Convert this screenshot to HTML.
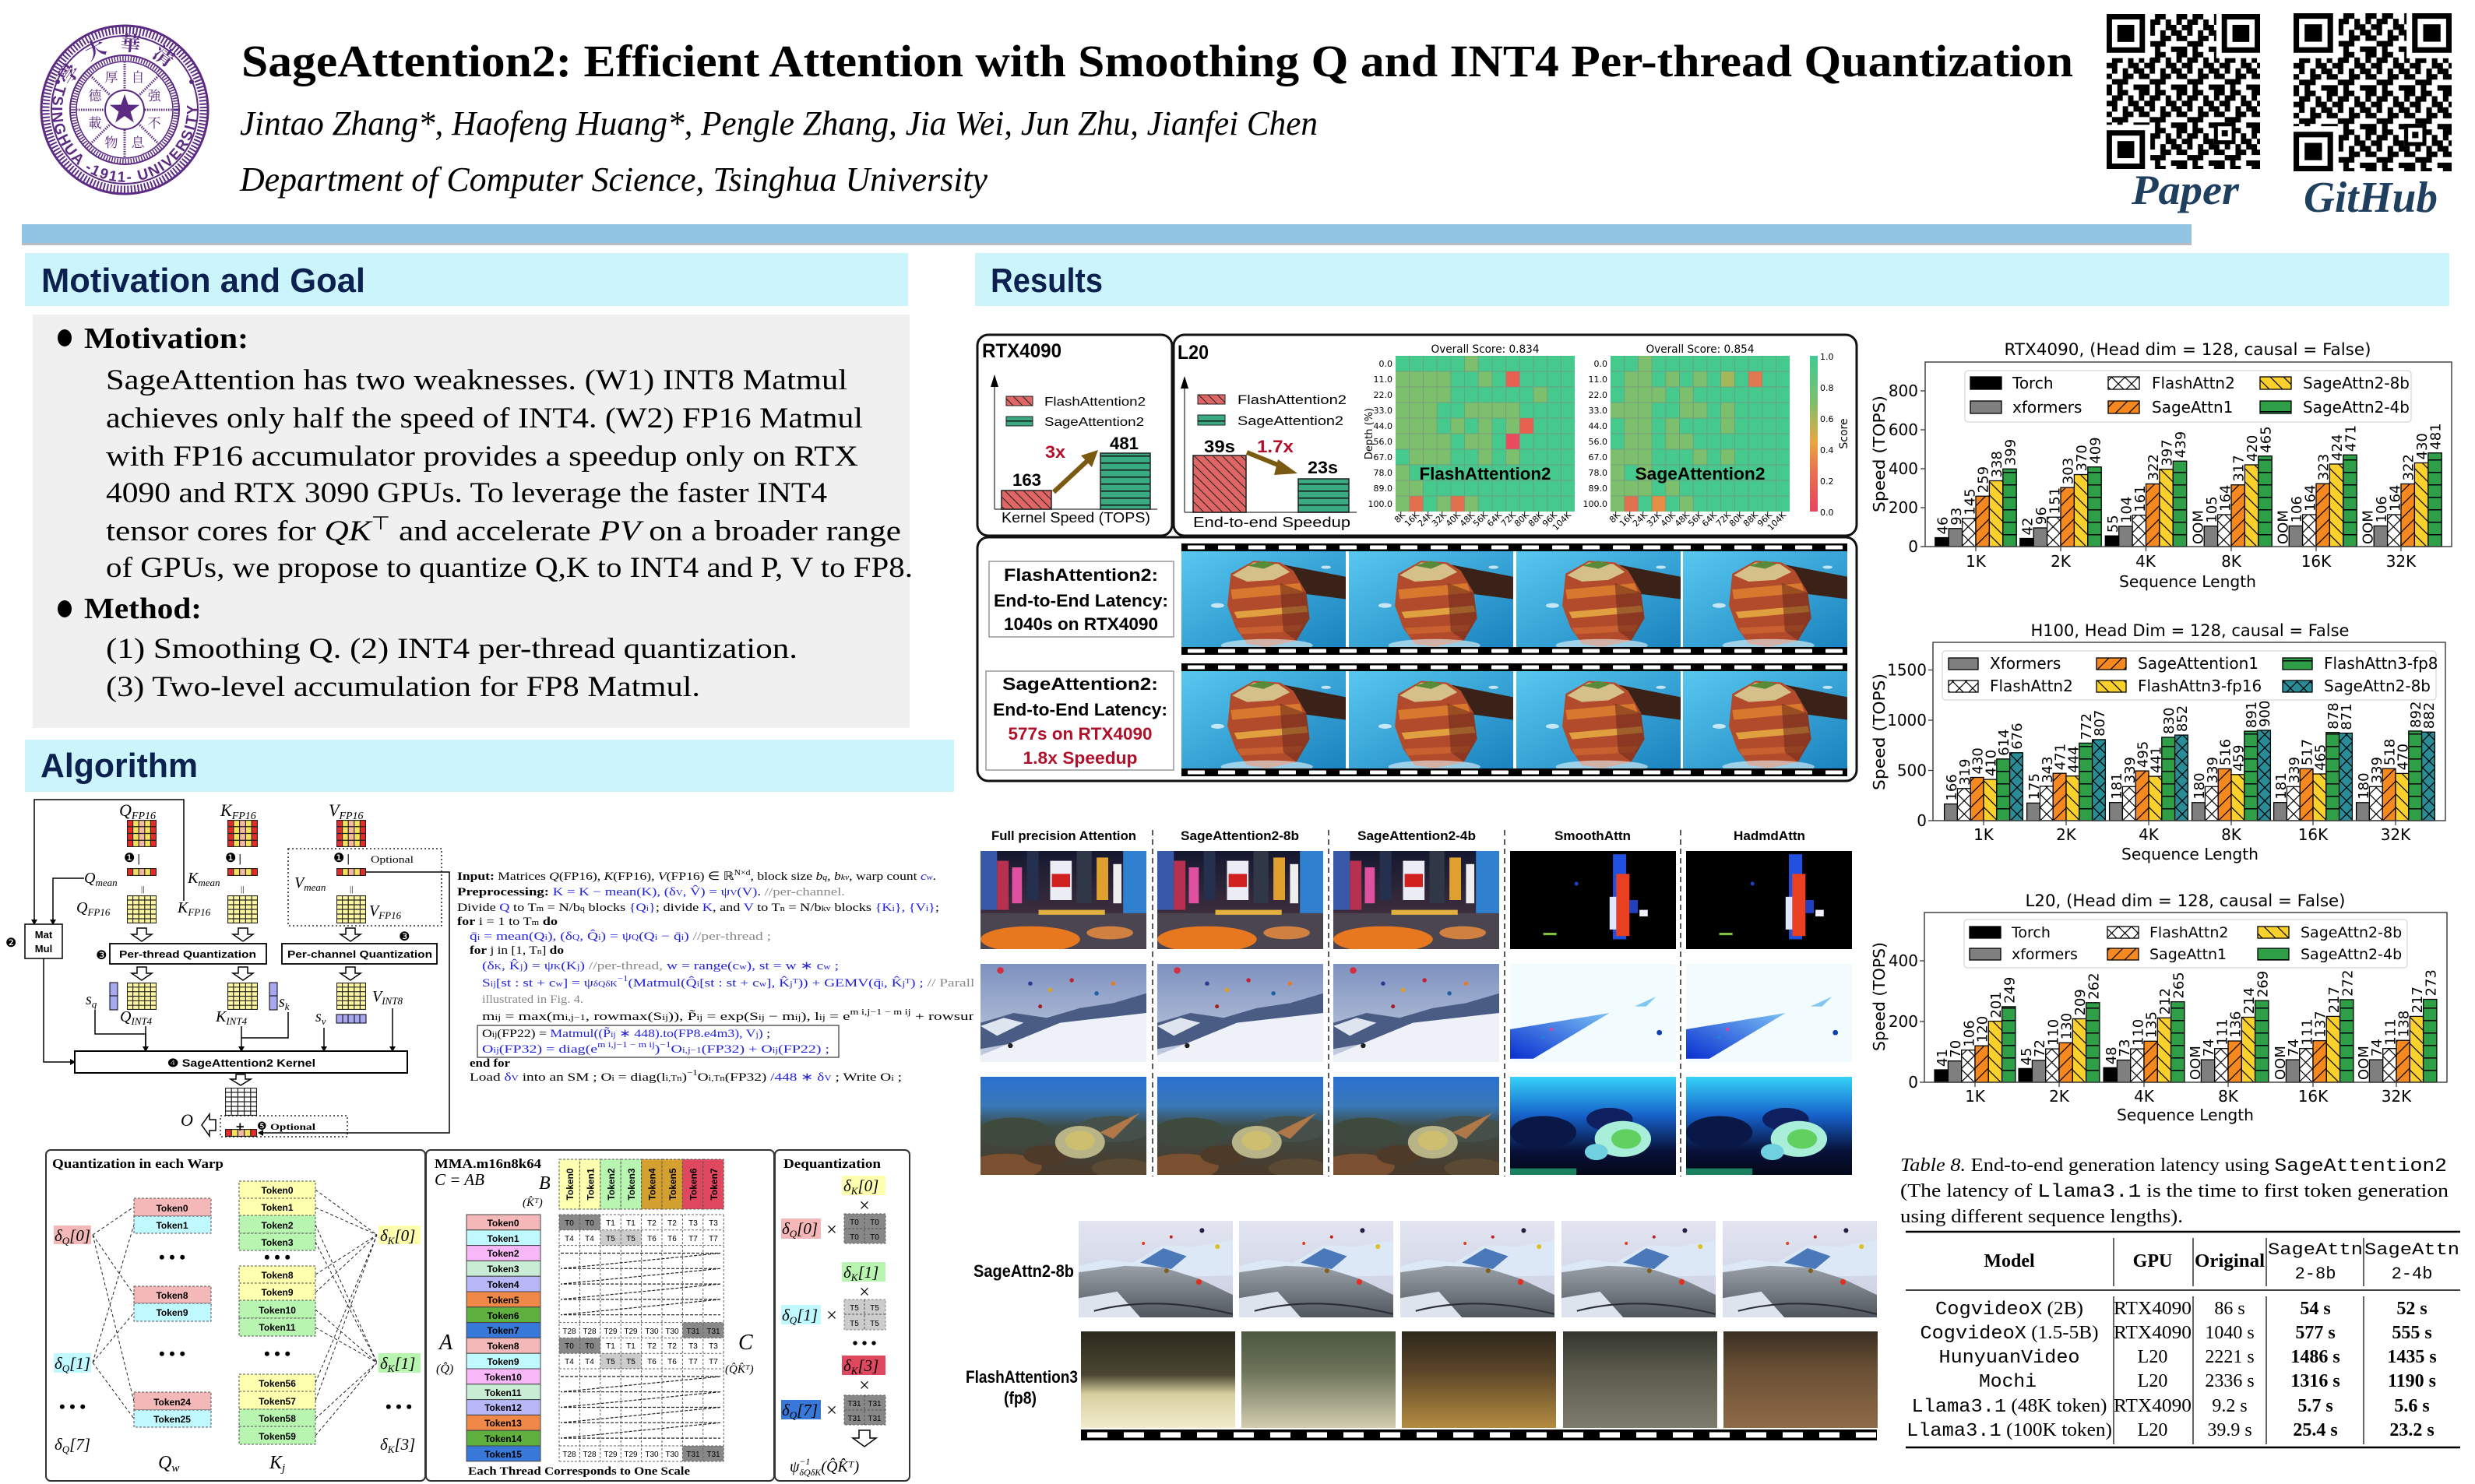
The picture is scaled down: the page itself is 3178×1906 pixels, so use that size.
<!DOCTYPE html>
<html><head><meta charset="utf-8"><title>SageAttention2 Poster</title>
<style>
html,body{margin:0;padding:0;background:#fff;}
svg{display:block;}
.s{font-family:"Liberation Serif",serif;}
.a{font-family:"Liberation Sans",sans-serif;}
.d{font-family:"DejaVu Sans",sans-serif;}
.m{font-family:"Liberation Mono",monospace;}
.bl{font-family:"DejaVu Sans",sans-serif;font-size:18px;}
.tk{font-family:"Liberation Sans",sans-serif;font-size:12px;font-weight:bold;}
.tc{font-family:"Liberation Sans",sans-serif;font-size:10px;}
</style></head><body>
<svg xmlns="http://www.w3.org/2000/svg" xmlns:xlink="http://www.w3.org/1999/xlink" width="3178" height="1906" viewBox="0 0 3178 1906">
<defs>
<pattern id="hX" patternUnits="userSpaceOnUse" width="17" height="17"><rect width="17" height="17" fill="#fff"/><path d="M0 0L17 17M17 0L0 17" stroke="#000" stroke-width="1.2"/></pattern>
<pattern id="hT" patternUnits="userSpaceOnUse" width="17" height="17"><rect width="17" height="17" fill="#2A8C96"/><path d="M0 0L17 17M17 0L0 17" stroke="#000" stroke-width="1.2"/></pattern>
<pattern id="hO" patternUnits="userSpaceOnUse" width="17" height="17"><rect width="17" height="17" fill="#F5881F"/><path d="M0 17L17 0M-3 3L3 -3M14 20L20 14" stroke="#000" stroke-width="1.2"/></pattern>
<pattern id="hY" patternUnits="userSpaceOnUse" width="17" height="17"><rect width="17" height="17" fill="#FAD02C"/><path d="M0 0L17 17M14 -3L20 3M-3 14L3 20" stroke="#000" stroke-width="1.2"/></pattern>
<pattern id="hG" patternUnits="userSpaceOnUse" width="17" height="16"><rect width="17" height="16" fill="#2E9E47"/><path d="M0 0.75H17" stroke="#000" stroke-width="1.5"/></pattern>
<pattern id="mR" patternUnits="userSpaceOnUse" width="12" height="12"><rect width="12" height="12" fill="#E06666"/><path d="M0 0L12 12M9 -3L15 3M-3 9L3 15" stroke="#222" stroke-width="1"/></pattern>
<pattern id="mG" patternUnits="userSpaceOnUse" width="12" height="9"><rect width="12" height="9" fill="#3AAA80"/><path d="M0 0.75H12" stroke="#111" stroke-width="1.5"/></pattern>
<pattern id="film" patternUnits="userSpaceOnUse" width="39" height="10"><rect width="39" height="10" fill="#000"/><rect x="8" y="2.5" width="22" height="5" rx="1" fill="#fff"/></pattern>
<pattern id="film2" patternUnits="userSpaceOnUse" width="47" height="14"><rect width="47" height="14" fill="#000"/><rect x="8" y="3.5" width="26" height="7" fill="#fff"/></pattern>
<pattern id="qr" patternUnits="userSpaceOnUse" width="49" height="49"><path d="M0 0h7v7h-7zM14 0h14v7h-14zM42 0h7v7h-7zM7 7h14v7h-14zM28 7h7v7h-7zM42 7h7v7h-7zM0 14h14v7h-14zM28 14h14v7h-14zM7 21h7v7h-7zM21 21h7v7h-7zM35 21h14v7h-14zM0 28h7v7h-7zM21 28h14v7h-14zM42 28h7v7h-7zM7 35h21v7h-21zM0 42h7v7h-7zM14 42h7v7h-7zM35 42h14v7h-14z" fill="#000"/></pattern>
<symbol id="qrs" viewBox="0 0 200 200" preserveAspectRatio="none">
<rect width="200" height="200" fill="#fff"/><rect width="200" height="200" fill="url(#qr)"/>
<rect width="57" height="57" fill="#fff"/><rect x="143" width="57" height="57" fill="#fff"/><rect y="143" width="57" height="57" fill="#fff"/>
<rect width="50" height="50" fill="#000"/><rect x="7" y="7" width="36" height="36" fill="#fff"/><rect x="14" y="14" width="22" height="22" fill="#000"/>
<rect x="150" width="50" height="50" fill="#000"/><rect x="157" y="7" width="36" height="36" fill="#fff"/><rect x="164" y="14" width="22" height="22" fill="#000"/>
<rect y="150" width="50" height="50" fill="#000"/><rect x="7" y="157" width="36" height="36" fill="#fff"/><rect x="14" y="164" width="22" height="22" fill="#000"/>
<rect x="140" y="140" width="28" height="28" fill="#000"/><rect x="145" y="145" width="18" height="18" fill="#fff"/><rect x="150" y="150" width="8" height="8" fill="#000"/>
</symbol>
<linearGradient id="gSea" x1="0" y1="0" x2="1" y2="1"><stop offset="0" stop-color="#58C8F0"/><stop offset="1" stop-color="#1A82BE"/></linearGradient>
<linearGradient id="gCity" x1="0" y1="0" x2="0" y2="1"><stop offset="0" stop-color="#151830"/><stop offset="0.6" stop-color="#3A2C3C"/><stop offset="1" stop-color="#6A4A3A"/></linearGradient>
<linearGradient id="gSky" x1="0" y1="0" x2="0" y2="1"><stop offset="0" stop-color="#7E92C0"/><stop offset="1" stop-color="#C6CEE0"/></linearGradient>
<linearGradient id="gBlue" x1="0" y1="1" x2="1" y2="0"><stop offset="0" stop-color="#0A30D0"/><stop offset="1" stop-color="#7AC0F5"/></linearGradient>
<linearGradient id="gSeaT" x1="0" y1="0" x2="0" y2="1"><stop offset="0" stop-color="#2A70D0"/><stop offset="0.3" stop-color="#3A78B8"/><stop offset="0.5" stop-color="#3C4C48"/><stop offset="1" stop-color="#4A3A2A"/></linearGradient>
<linearGradient id="gSeaB" x1="0" y1="0" x2="0" y2="1"><stop offset="0" stop-color="#35D2F8"/><stop offset="0.4" stop-color="#1660C8"/><stop offset="0.75" stop-color="#08123A"/><stop offset="1" stop-color="#040818"/></linearGradient>
<linearGradient id="gMt" x1="0" y1="0" x2="0" y2="1"><stop offset="0" stop-color="#E2E4F0"/><stop offset="1" stop-color="#C9CEE2"/></linearGradient>
<linearGradient id="gGr" x1="0" y1="0" x2="0" y2="1"><stop offset="0" stop-color="#9AA0A8"/><stop offset="1" stop-color="#50565E"/></linearGradient>
<linearGradient id="n1" x1="0" y1="0" x2="0" y2="1"><stop offset="0" stop-color="#2C2A1C"/><stop offset="0.45" stop-color="#4A4632"/><stop offset="0.65" stop-color="#D8CFA0"/><stop offset="1" stop-color="#F2ECCC"/></linearGradient>
<linearGradient id="n2" x1="0" y1="0" x2="0" y2="1"><stop offset="0" stop-color="#4C5840"/><stop offset="0.4" stop-color="#6A7258"/><stop offset="1" stop-color="#D4CDB0"/></linearGradient>
<linearGradient id="n3" x1="0" y1="0" x2="0" y2="1"><stop offset="0" stop-color="#2E281C"/><stop offset="0.4" stop-color="#5A4428"/><stop offset="1" stop-color="#B48C40"/></linearGradient>
<linearGradient id="n4" x1="0" y1="0" x2="0" y2="1"><stop offset="0" stop-color="#34362E"/><stop offset="0.4" stop-color="#5A5A4C"/><stop offset="1" stop-color="#7E7C6C"/></linearGradient>
<linearGradient id="n5" x1="0" y1="0" x2="0" y2="1"><stop offset="0" stop-color="#3A3024"/><stop offset="0.4" stop-color="#6A5034"/><stop offset="1" stop-color="#8E6A48"/></linearGradient>
<linearGradient id="cbar" x1="0" y1="1" x2="0" y2="0"><stop offset="0" stop-color="#E8445F"/><stop offset="0.25" stop-color="#E87050"/><stop offset="0.45" stop-color="#E8A840"/><stop offset="0.7" stop-color="#7EBF6A"/><stop offset="1" stop-color="#3FCB95"/></linearGradient>

<symbol id="imCliff" viewBox="0 0 100 60" preserveAspectRatio="none">
<rect width="100" height="60" fill="url(#gSea)"/>
<polygon points="60,8 100,16 100,30 70,26" fill="#3A2218"/>
<polygon points="30,14 44,6 60,7 68,12 76,26 78,42 70,56 52,60 40,58 33,48 28,34" fill="#B24A2C"/>
<polygon points="30,24 72,20 74,26 31,30" fill="#D8782E"/>
<polygon points="32,38 76,34 77,38 34,42" fill="#E0A040"/>
<polygon points="34,48 74,46 72,50 36,52" fill="#C86030"/>
<polygon points="60,20 76,26 78,42 70,56 62,50" fill="#6A2A1A" opacity="0.55"/>
<polygon points="31,15 44,7 59,8 66,13 56,18 40,19" fill="#D6C08A"/>
<polygon points="40,9 50,6 57,8 50,11" fill="#5A8A38"/>
<ellipse cx="52" cy="59" rx="28" ry="4" fill="#E8F6FA" opacity="0.6"/>
<ellipse cx="22" cy="34" rx="4" ry="1.5" fill="#fff" opacity="0.7"/>
<ellipse cx="88" cy="10" rx="3" ry="1" fill="#fff" opacity="0.7"/>
</symbol>
<symbol id="imCity" viewBox="0 0 100 60" preserveAspectRatio="none">
<rect width="100" height="60" fill="url(#gCity)"/>
<rect x="0" y="0" width="10" height="36" fill="#3A58A8"/><rect x="10" y="6" width="7" height="30" fill="#B83050"/>
<rect x="19" y="10" width="6" height="22" fill="#E050A0"/><rect x="28" y="0" width="7" height="30" fill="#24304E"/>
<rect x="42" y="6" width="13" height="24" fill="#ECECF4"/><rect x="43" y="14" width="11" height="8" fill="#D02020"/>
<rect x="58" y="0" width="9" height="32" fill="#303848"/><rect x="70" y="4" width="7" height="26" fill="#E0A030"/>
<rect x="86" y="0" width="14" height="40" fill="#3080D0"/><rect x="80" y="8" width="5" height="24" fill="#EEE"/>
<rect x="0" y="38" width="100" height="22" fill="#4A4550"/>
<ellipse cx="30" cy="54" rx="30" ry="8" fill="#E87820"/><ellipse cx="78" cy="50" rx="14" ry="4" fill="#D08040"/>
<rect x="35" y="36" width="40" height="3" fill="#E0B040"/>
</symbol>
<symbol id="imCityB" viewBox="0 0 100 60" preserveAspectRatio="none">
<rect width="100" height="60" fill="#000"/>
<rect x="62" y="2" width="8" height="52" fill="#2050E0"/><rect x="64" y="14" width="8" height="38" fill="#E84020"/>
<rect x="60" y="28" width="4" height="20" fill="#E0E8FF"/><rect x="72" y="30" width="5" height="8" fill="#2040C0"/>
<rect x="78" y="36" width="5" height="4" fill="#F0F0FF"/><rect x="20" y="50" width="8" height="1.5" fill="#80C040"/>
<circle cx="40" cy="20" r="1.2" fill="#2040C0"/>
</symbol>
<symbol id="imSnow" viewBox="0 0 100 60" preserveAspectRatio="none">
<rect width="100" height="60" fill="url(#gSky)"/>
<polygon points="0,36 20,30 40,33 60,27 80,24 100,18 100,34 0,52" fill="#4A5C84"/>
<polygon points="0,38 14,33 26,36 10,44" fill="#E0E6F0"/>
<polygon points="0,60 0,56 48,36 100,30 100,60" fill="#EEF2F8"/>
<circle cx="12" cy="4" r="2" fill="#D03040"/><circle cx="30" cy="12" r="1.3" fill="#303890"/><circle cx="42" cy="16" r="1.3" fill="#E0A020"/>
<circle cx="55" cy="10" r="1.3" fill="#C02030"/><circle cx="70" cy="18" r="1.3" fill="#2060A0"/><circle cx="80" cy="12" r="1.3" fill="#E08020"/>
<circle cx="36" cy="26" r="1.2" fill="#A02020"/><circle cx="18" cy="50" r="1.5" fill="#202020"/>
</symbol>
<symbol id="imSnowB" viewBox="0 0 100 60" preserveAspectRatio="none">
<rect width="100" height="60" fill="#F2FBFE"/>
<polygon points="0,58 0,40 60,30 14,58" fill="url(#gBlue)"/>
<polygon points="75,26 88,20 82,26" fill="#80C8F0"/>
<circle cx="20" cy="45" r="1" fill="#2080E0"/><circle cx="90" cy="42" r="1.6" fill="#1040B0"/><circle cx="25" cy="40" r="1" fill="#E040A0"/>
</symbol>
<symbol id="imSea" viewBox="0 0 100 60" preserveAspectRatio="none">
<rect width="100" height="60" fill="url(#gSeaT)"/>
<ellipse cx="20" cy="34" rx="22" ry="9" fill="#3E4A3C"/><ellipse cx="80" cy="32" rx="22" ry="8" fill="#46504A"/>
<ellipse cx="15" cy="55" rx="22" ry="8" fill="#7A5030"/><ellipse cx="85" cy="56" rx="18" ry="6" fill="#5A4A34"/>
<ellipse cx="40" cy="48" rx="14" ry="6" fill="#4E3A28"/>
<ellipse cx="60" cy="40" rx="15" ry="10" fill="#B8B488"/><ellipse cx="60" cy="39" rx="9" ry="6" fill="#CDBE70"/>
<polygon points="72,34 96,22 80,38" fill="#B07848"/>
</symbol>
<symbol id="imSeaB" viewBox="0 0 100 60" preserveAspectRatio="none">
<rect width="100" height="60" fill="url(#gSeaB)"/>
<ellipse cx="20" cy="34" rx="20" ry="10" fill="#0A1848"/><ellipse cx="60" cy="26" rx="14" ry="7" fill="#0E2060"/>
<ellipse cx="68" cy="38" rx="17" ry="11" fill="#A8EED8"/><ellipse cx="70" cy="38" rx="9" ry="6" fill="#60D060"/>
<ellipse cx="52" cy="46" rx="7" ry="5" fill="#70D0E0"/>
<rect x="0" y="56" width="40" height="4" fill="#1A8060"/>
</symbol>
<symbol id="imMount" viewBox="0 0 100 60" preserveAspectRatio="none">
<rect width="100" height="60" fill="url(#gMt)"/>
<polygon points="0,28 18,24 35,26 55,15 75,16 100,12 100,34 0,36" fill="#DCE8F6"/>
<polygon points="40,26 55,17 70,22 60,30" fill="#4A78B8"/>
<polygon points="0,60 0,32 30,28 55,29 78,36 100,46 100,60" fill="url(#gGr)"/>
<polygon points="0,48 25,44 40,60 0,60" fill="#DDE4EE"/>
<path d="M10,56 Q50,46 100,58" stroke="#2A2E34" stroke-width="1" fill="none"/>
<circle cx="80" cy="6" r="1.5" fill="#202040"/><circle cx="60" cy="10" r="1" fill="#C02020"/><circle cx="42" cy="14" r="1" fill="#E04020"/>
<circle cx="90" cy="16" r="1.5" fill="#E0C020"/><circle cx="78" cy="38" r="1.8" fill="#E03020"/><circle cx="57" cy="31" r="1.5" fill="#806020"/>
</symbol>

<symbol id="gFP" viewBox="0 0 40 36" preserveAspectRatio="none">
<rect width="8" height="36" fill="#E52A2A"/><rect x="8" width="8" height="36" fill="#F5E25A"/><rect x="16" width="8" height="36" fill="#F6B7A5"/><rect x="24" width="8" height="36" fill="#F5E25A"/><rect x="32" width="8" height="36" fill="#E52A2A"/>
<path d="M0 0.5H40M0 9H40M0 18H40M0 27H40M0 35.5H40M0.5 0V36M8 0V36M16 0V36M24 0V36M32 0V36M39.5 0V36" stroke="#222" stroke-width="1.2" fill="none"/>
</symbol>
<symbol id="gM" viewBox="0 0 40 10" preserveAspectRatio="none">
<rect width="8" height="10" fill="#E52A2A"/><rect x="8" width="8" height="10" fill="#F5E25A"/><rect x="16" width="8" height="10" fill="#F6B7A5"/><rect x="24" width="8" height="10" fill="#F5E25A"/><rect x="32" width="8" height="10" fill="#E52A2A"/>
<path d="M0 0.5H40M0 9.5H40M0.5 0V10M8 0V10M16 0V10M24 0V10M32 0V10M39.5 0V10" stroke="#222" stroke-width="1.2" fill="none"/>
</symbol>
<symbol id="gYl" viewBox="0 0 40 36" preserveAspectRatio="none">
<rect width="40" height="36" fill="#FFF7A0"/>
<path d="M0 0.5H40M0 6H40M0 12H40M0 18H40M0 24H40M0 30H40M0 35.5H40M0.5 0V36M8 0V36M16 0V36M24 0V36M32 0V36M39.5 0V36" stroke="#222" stroke-width="1.2" fill="none"/>
</symbol>
<symbol id="gWh" viewBox="0 0 40 36" preserveAspectRatio="none">
<rect width="40" height="36" fill="#fff"/>
<path d="M0 0.5H40M0 6H40M0 12H40M0 18H40M0 24H40M0 30H40M0 35.5H40M0.5 0V36M8 0V36M16 0V36M24 0V36M32 0V36M39.5 0V36" stroke="#222" stroke-width="1.2" fill="none"/>
</symbol>
<path id="ringPath" d="M-87.5,-31.8 A93 93 0 1 0 87.5,-31.8"/>
<path id="topPath" d="M-70,-30 A76 76 0 0 1 70,-30"/>
<clipPath id="algClip"><rect x="0" y="1020" width="1250" height="440"/></clipPath>
<clipPath id="lowClip"><rect x="1380" y="1560" width="1032" height="300"/></clipPath>
</defs>

<!-- ============ HEADER ============ -->
<g transform="translate(160,141)">
<ellipse rx="107" ry="108" fill="#fff" stroke="#5B2A82" stroke-width="3"/>
<ellipse rx="101" ry="102" fill="none" stroke="#5B2A82" stroke-width="9" stroke-dasharray="2 2.4"/>
<ellipse rx="94" ry="95" fill="none" stroke="#5B2A82" stroke-width="2"/>
<text class="a" font-size="19" font-weight="bold" fill="#5B2A82"><textPath href="#ringPath" xlink:href="#ringPath" textLength="330" lengthAdjust="spacing">TSINGHUA  -1911-  UNIVERSITY</textPath></text>
<text font-family="'Noto Serif CJK TC','Noto Sans CJK TC',serif" font-size="26" font-weight="bold" fill="#5B2A82"><textPath href="#topPath" xlink:href="#topPath" textLength="150" lengthAdjust="spacing">學大華清</textPath></text>
<circle cx="-86" cy="-36" r="3" fill="#5B2A82"/><circle cx="86" cy="-36" r="3" fill="#5B2A82"/>
<circle r="70" fill="none" stroke="#5B2A82" stroke-width="2"/>
<circle r="66" fill="none" stroke="#5B2A82" stroke-width="6" stroke-dasharray="1.5 2"/>
<circle r="62" fill="none" stroke="#5B2A82" stroke-width="1.5"/>
<path d="M0,-62V-26M0,26V62M-62,0H-26M26,0H62M-44,-44L-18,-18M44,44L18,18M-44,44L-18,18M44,-44L18,-18" stroke="#5B2A82" stroke-width="3" stroke-dasharray="1.5 1.5"/>
<g font-family="'Noto Serif CJK TC','Noto Sans CJK TC',serif" font-size="17" fill="#5B2A82" text-anchor="middle">
<text x="17" y="-36">自</text><text x="38" y="-12">強</text><text x="38" y="23">不</text><text x="17" y="48">息</text>
<text x="-17" y="48">物</text><text x="-38" y="23">載</text><text x="-38" y="-12">德</text><text x="-17" y="-36">厚</text>
</g>
<circle r="25" fill="#fff" stroke="#5B2A82" stroke-width="2"/>
<polygon points="0,-20 4.7,-6.5 19,-6.2 7.6,2.5 11.8,16.2 0,8 -11.8,16.2 -7.6,2.5 -19,-6.2 -4.7,-6.5" fill="#5B2A82"/>
</g>

<text class="s" x="310" y="98" font-size="58" font-weight="bold" textLength="2352" lengthAdjust="spacingAndGlyphs">SageAttention2: Efficient Attention with Smoothing Q and INT4 Per-thread Quantization</text>
<text class="s" x="308" y="173" font-size="44" font-style="italic" textLength="1384" lengthAdjust="spacingAndGlyphs">Jintao Zhang*, Haofeng Huang*, Pengle Zhang, Jia Wei, Jun Zhu, Jianfei Chen</text>
<text class="s" x="308" y="245" font-size="44" font-style="italic" textLength="960" lengthAdjust="spacingAndGlyphs">Department of Computer Science, Tsinghua University</text>

<use href="#qrs" xlink:href="#qrs" x="2705" y="18" width="197" height="199"/>
<use href="#qrs" xlink:href="#qrs" x="2945" y="17" width="203" height="203"/>
<text class="s" x="2737" y="262" font-size="54" font-style="italic" font-weight="bold" fill="#1F3F5F" textLength="138" lengthAdjust="spacingAndGlyphs">Paper</text>
<text class="s" x="2958" y="272" font-size="56" font-style="italic" font-weight="bold" fill="#1F3F5F" textLength="172" lengthAdjust="spacingAndGlyphs">GitHub</text>

<rect x="28" y="290" width="2786" height="25" fill="#B8BCC0"/>
<rect x="28" y="288" width="2786" height="24" fill="#92C5E3"/>

<!-- ============ SECTION HEADERS ============ -->
<rect x="32" y="325" width="1134" height="68" fill="#CCF5FB"/>
<text class="a" x="53" y="375" font-size="44" font-weight="bold" fill="#0C2150" textLength="416" lengthAdjust="spacingAndGlyphs">Motivation and Goal</text>
<rect x="1252" y="325" width="1893" height="68" fill="#CCF5FB"/>
<text class="a" x="1272" y="375" font-size="44" font-weight="bold" fill="#0C2150" textLength="144" lengthAdjust="spacingAndGlyphs">Results</text>
<rect x="32" y="950" width="1193" height="67" fill="#CCF5FB"/>
<text class="a" x="52" y="998" font-size="44" font-weight="bold" fill="#0C2150" textLength="202" lengthAdjust="spacingAndGlyphs">Algorithm</text>

<!-- ============ MOTIVATION ============ -->
<rect x="42" y="404" width="1126" height="531" fill="#F0F0F0"/>
<g class="s" fill="#000">
<ellipse cx="83" cy="434" rx="9" ry="11"/>
<text x="108" y="447" font-size="38" font-weight="bold" textLength="211" lengthAdjust="spacingAndGlyphs">Motivation:</text>
<text x="136" y="500" font-size="37" textLength="952" lengthAdjust="spacingAndGlyphs">SageAttention has two weaknesses. (W1) INT8 Matmul</text>
<text x="136" y="549" font-size="37" textLength="972" lengthAdjust="spacingAndGlyphs">achieves only half the speed of INT4. (W2) FP16 Matmul</text>
<text x="136" y="598" font-size="37" textLength="966" lengthAdjust="spacingAndGlyphs">with FP16 accumulator provides a speedup only on RTX</text>
<text x="136" y="645" font-size="37" textLength="926" lengthAdjust="spacingAndGlyphs">4090 and RTX 3090 GPUs. To leverage the faster INT4</text>
<text x="136" y="694" font-size="37" textLength="1021" lengthAdjust="spacingAndGlyphs">tensor cores for <tspan font-style="italic">QK</tspan><tspan font-size="24" dy="-14">⊤</tspan><tspan dy="14"> and accelerate </tspan><tspan font-style="italic">PV</tspan> on a broader range</text>
<text x="136" y="741" font-size="37" textLength="1036" lengthAdjust="spacingAndGlyphs">of GPUs, we propose to quantize Q,K to INT4 and P, V to FP8.</text>
<ellipse cx="83" cy="782" rx="9" ry="11"/>
<text x="108" y="794" font-size="38" font-weight="bold" textLength="151" lengthAdjust="spacingAndGlyphs">Method:</text>
<text x="136" y="845" font-size="37" textLength="888" lengthAdjust="spacingAndGlyphs">(1) Smoothing Q. (2) INT4 per-thread quantization.</text>
<text x="136" y="894" font-size="37" textLength="763" lengthAdjust="spacingAndGlyphs">(3) Two-level accumulation for FP8 Matmul.</text>
</g>

<!-- ============ ALGORITHM DIAGRAM ============ -->
<g stroke="#000" stroke-width="1.5" fill="none">
<path d="M44,1183V1027H236V1157"/>
<path d="M108,1128H68V1183"/>
<path d="M56,1231V1364H92"/>
<path d="M470,1120H577V1455H334"/>
<path d="M122,1297V1328H187V1346"/>
<path d="M187,1318V1346"/>
<path d="M310,1318V1346"/>
<path d="M370,1300V1333H310"/>
<path d="M416,1320V1346"/>
<path d="M504,1295V1346"/>
</g>
<g fill="#000">
<polygon points="40,1181 48,1181 44,1188"/><polygon points="64,1181 72,1181 68,1188"/>
<polygon points="90,1360 97,1364 90,1368"/>
<polygon points="183,1344 191,1344 187,1351"/><polygon points="306,1344 314,1344 310,1351"/>
<polygon points="412,1344 420,1344 416,1351"/><polygon points="500,1344 508,1344 504,1351"/>
<polygon points="338,1451 338,1459 331,1455"/>
</g>
<rect x="370" y="1090" width="197" height="99" fill="none" stroke="#000" stroke-width="1.3" stroke-dasharray="2 3"/>
<use href="#gFP" xlink:href="#gFP" x="163" y="1053" width="38" height="35"/>
<use href="#gFP" xlink:href="#gFP" x="292" y="1053" width="39" height="35"/>
<use href="#gFP" xlink:href="#gFP" x="432" y="1053" width="38" height="35"/>
<use href="#gM" xlink:href="#gM" x="163" y="1115" width="38" height="10"/>
<use href="#gM" xlink:href="#gM" x="292" y="1115" width="39" height="10"/>
<use href="#gM" xlink:href="#gM" x="432" y="1115" width="38" height="10"/>
<use href="#gYl" xlink:href="#gYl" x="163" y="1150" width="38" height="36"/>
<use href="#gYl" xlink:href="#gYl" x="292" y="1150" width="39" height="36"/>
<use href="#gYl" xlink:href="#gYl" x="432" y="1150" width="38" height="36"/>
<use href="#gYl" xlink:href="#gYl" x="163" y="1262" width="38" height="35"/>
<use href="#gYl" xlink:href="#gYl" x="292" y="1262" width="39" height="35"/>
<use href="#gYl" xlink:href="#gYl" x="432" y="1262" width="38" height="35"/>
<use href="#gWh" xlink:href="#gWh" x="289" y="1397" width="41" height="36"/>
<rect x="141" y="1262" width="10" height="35" fill="#A8A8F0" stroke="#000"/><path d="M141,1279H151" stroke="#000"/>
<rect x="346" y="1262" width="10" height="35" fill="#A8A8F0" stroke="#000"/><path d="M346,1279H356" stroke="#000"/>
<rect x="432" y="1303" width="38" height="11" fill="#A8A8F0" stroke="#000"/><path d="M440,1303V1314M447,1303V1314M455,1303V1314M462,1303V1314" stroke="#000"/>
<use href="#gM" xlink:href="#gM" x="289" y="1450" width="41" height="10"/>
<g fill="#fff" stroke="#000" stroke-width="1.5">
<path d="M176,1192h12v8h7l-13,9l-13,-9h7z"/><path d="M306,1192h12v8h7l-13,9l-13,-9h7z"/><path d="M444,1192h12v8h7l-13,9l-13,-9h7z"/>
<path d="M176,1242h12v8h7l-13,9l-13,-9h7z"/><path d="M306,1242h12v8h7l-13,9l-13,-9h7z"/><path d="M444,1242h12v8h7l-13,9l-13,-9h7z"/>
<path d="M303,1380h12v6h7l-13,8l-13,-8h7z"/>
<path d="M277,1438v14h-8v7l-10,-14l10,-14v7z"/>
</g>
<rect x="32" y="1187" width="48" height="44" fill="#fff" stroke="#000" stroke-width="1.5"/>
<rect x="141" y="1212" width="201" height="26" fill="#fff" stroke="#000" stroke-width="1.8"/>
<rect x="362" y="1212" width="199" height="26" fill="#fff" stroke="#000" stroke-width="1.8"/>
<rect x="96" y="1350" width="427" height="28" fill="#fff" stroke="#000" stroke-width="2"/>
<rect x="283" y="1433" width="163" height="27" fill="none" stroke="#000" stroke-width="1.2" stroke-dasharray="2 3"/>
<g class="s" fill="#000">
<text x="153" y="1048" font-size="22" font-style="italic">Q<tspan font-size="14" dy="4">FP16</tspan></text>
<text x="283" y="1048" font-size="22" font-style="italic">K<tspan font-size="14" dy="4">FP16</tspan></text>
<text x="422" y="1048" font-size="22" font-style="italic">V<tspan font-size="14" dy="4">FP16</tspan></text>
<text x="108" y="1134" font-size="20" font-style="italic">Q<tspan font-size="13" dy="4">mean</tspan></text>
<text x="241" y="1134" font-size="20" font-style="italic">K<tspan font-size="13" dy="4">mean</tspan></text>
<text x="378" y="1140" font-size="20" font-style="italic">V<tspan font-size="13" dy="4">mean</tspan></text>
<text x="98" y="1172" font-size="20" font-style="italic">Q<tspan font-size="13" dy="4">FP16</tspan></text>
<text x="228" y="1172" font-size="20" font-style="italic">K<tspan font-size="13" dy="4">FP16</tspan></text>
<text x="474" y="1176" font-size="20" font-style="italic">V<tspan font-size="13" dy="4">FP16</tspan></text>
<text x="110" y="1290" font-size="20" font-style="italic">s<tspan font-size="13" dy="4">q</tspan></text>
<text x="358" y="1293" font-size="20" font-style="italic">s<tspan font-size="13" dy="4">k</tspan></text>
<text x="405" y="1312" font-size="20" font-style="italic">s<tspan font-size="13" dy="4">v</tspan></text>
<text x="154" y="1312" font-size="20" font-style="italic">Q<tspan font-size="13" dy="4">INT4</tspan></text>
<text x="277" y="1312" font-size="20" font-style="italic">K<tspan font-size="13" dy="4">INT4</tspan></text>
<text x="478" y="1286" font-size="20" font-style="italic">V<tspan font-size="13" dy="4">INT8</tspan></text>
<text x="232" y="1446" font-size="22" font-style="italic">O</text>
<text x="181" y="1145" font-size="11">||</text><text x="309" y="1145" font-size="11">||</text><text x="449" y="1145" font-size="11">||</text>
<text x="476" y="1108" font-size="13" textLength="55" lengthAdjust="spacingAndGlyphs">Optional</text>
</g>
<g class="d" fill="#000">
<text x="159" y="1107" font-size="16">❶</text><text x="176" y="1107" font-size="13">|</text>
<text x="289" y="1107" font-size="16">❶</text><text x="306" y="1107" font-size="13">|</text>
<text x="428" y="1107" font-size="16">❶</text><text x="445" y="1107" font-size="13">|</text>
<text x="7" y="1216" font-size="16">❷</text>
<text x="123" y="1232" font-size="16">❸</text><text x="512" y="1208" font-size="16">❸</text>
<text x="302" y="1452" font-size="15" font-weight="bold">+</text>
<text x="330" y="1451" font-size="14">❺</text>
</g>
<g class="a" fill="#000" font-weight="bold">
<text x="56" y="1205" font-size="13" text-anchor="middle">Mat</text><text x="56" y="1223" font-size="13" text-anchor="middle">Mul</text>
<text x="241" y="1230" font-size="13" text-anchor="middle" textLength="176" lengthAdjust="spacingAndGlyphs">Per-thread Quantization</text>
<text x="462" y="1230" font-size="13" text-anchor="middle" textLength="186" lengthAdjust="spacingAndGlyphs">Per-channel Quantization</text>
<text x="310" y="1370" font-size="14" text-anchor="middle" textLength="190" lengthAdjust="spacingAndGlyphs">❹ SageAttention2 Kernel</text>
<text x="347" y="1451" font-size="12" font-family="Liberation Serif,serif" textLength="58" lengthAdjust="spacingAndGlyphs">Optional</text>
</g>

<!-- algorithm text -->
<g class="s" font-size="15" fill="#000" clip-path="url(#algClip)">
<text x="587" y="1130" textLength="615" lengthAdjust="spacingAndGlyphs"><tspan font-weight="bold">Input:</tspan> Matrices <tspan font-style="italic">Q</tspan>(FP16), <tspan font-style="italic">K</tspan>(FP16), <tspan font-style="italic">V</tspan>(FP16) ∈ ℝ<tspan font-size="10" dy="-6">N×d</tspan><tspan dy="6">, block size </tspan><tspan font-style="italic">b<tspan font-size="10">q</tspan>, b<tspan font-size="10">kv</tspan></tspan>, warp count <tspan fill="#2222DD" font-style="italic">c<tspan font-size="10">w</tspan></tspan>.</text>
<text x="587" y="1150" textLength="498" lengthAdjust="spacingAndGlyphs"><tspan font-weight="bold">Preprocessing: </tspan><tspan fill="#2222DD">K = K − mean(K),  (δ<tspan font-size="10">V</tspan>, V̂) = ψ<tspan font-size="10">V</tspan>(V)</tspan>. <tspan fill="#888">//per-channel.</tspan></text>
<text x="587" y="1170" textLength="619" lengthAdjust="spacingAndGlyphs">Divide <tspan fill="#2222DD">Q</tspan> to T<tspan font-size="10">m</tspan> = N/b<tspan font-size="10">q</tspan> blocks <tspan fill="#2222DD">{Q<tspan font-size="10">i</tspan>}</tspan>; divide <tspan fill="#2222DD">K</tspan>, and <tspan fill="#2222DD">V</tspan> to T<tspan font-size="10">n</tspan> = N/b<tspan font-size="10">kv</tspan> blocks <tspan fill="#2222DD">{K<tspan font-size="10">i</tspan>}, {V<tspan font-size="10">i</tspan>}</tspan>;</text>
<text x="587" y="1188" textLength="129" lengthAdjust="spacingAndGlyphs"><tspan font-weight="bold">for</tspan> i = 1 to T<tspan font-size="10">m</tspan> <tspan font-weight="bold">do</tspan></text>
<text x="603" y="1207" textLength="387" lengthAdjust="spacingAndGlyphs"><tspan fill="#2222DD">q̄<tspan font-size="10">i</tspan> = mean(Q<tspan font-size="10">i</tspan>),  (δ<tspan font-size="10">Q</tspan>, Q̂<tspan font-size="10">i</tspan>) = ψ<tspan font-size="10">Q</tspan>(Q<tspan font-size="10">i</tspan> − q̄<tspan font-size="10">i</tspan>)</tspan> <tspan fill="#888">//per-thread ;</tspan></text>
<text x="603" y="1225" textLength="121" lengthAdjust="spacingAndGlyphs"><tspan font-weight="bold">for</tspan> j in [1, T<tspan font-size="10">n</tspan>] <tspan font-weight="bold">do</tspan></text>
<text x="619" y="1245" textLength="458" lengthAdjust="spacingAndGlyphs" fill="#2222DD">(δ<tspan font-size="10">K</tspan>, K̂<tspan font-size="10">j</tspan>) = ψ<tspan font-size="10">K</tspan>(K<tspan font-size="10">j</tspan>) <tspan fill="#888">//per-thread,</tspan>    w = range(c<tspan font-size="10">w</tspan>), st = w ∗ c<tspan font-size="10">w</tspan> ;</text>
<text x="619" y="1267" textLength="641" lengthAdjust="spacingAndGlyphs" fill="#2222DD">S<tspan font-size="10">ij</tspan>[st : st + c<tspan font-size="10">w</tspan>] = ψ<tspan font-size="10">δQδK</tspan><tspan font-size="10" dy="-7">−1</tspan><tspan dy="7">(Matmul(Q̂</tspan><tspan font-size="10">i</tspan>[st : st + c<tspan font-size="10">w</tspan>], K̂<tspan font-size="10">j</tspan>ᵀ)) + GEMV(q̄<tspan font-size="10">i</tspan>, K̂<tspan font-size="10">j</tspan>ᵀ) ; <tspan fill="#888">// Paralle</tspan></text>
<text x="619" y="1288" textLength="130" lengthAdjust="spacingAndGlyphs" fill="#888">illustrated in Fig. 4.</text>
<text x="619" y="1310" textLength="641" lengthAdjust="spacingAndGlyphs">m<tspan font-size="10">ij</tspan> = max(m<tspan font-size="10">i,j−1</tspan>, rowmax(S<tspan font-size="10">ij</tspan>)),  P̃<tspan font-size="10">ij</tspan> = exp(S<tspan font-size="10">ij</tspan> − m<tspan font-size="10">ij</tspan>),  l<tspan font-size="10">ij</tspan> = e<tspan font-size="10" dy="-7">m i,j−1 − m ij</tspan><tspan dy="7"> + rowsum</tspan></text>
<text x="619" y="1332" textLength="370" lengthAdjust="spacingAndGlyphs">O<tspan font-size="10">ij</tspan>(FP22) = <tspan fill="#2222DD">Matmul((P̃<tspan font-size="10">ij</tspan> ∗ 448).to(FP8.e4m3), V<tspan font-size="10">j</tspan>)</tspan> ;</text>
<text x="619" y="1352" textLength="446" lengthAdjust="spacingAndGlyphs" fill="#2222DD">O<tspan font-size="10">ij</tspan>(FP32) = diag(e<tspan font-size="10" dy="-7">m i,j−1 − m ij</tspan><tspan dy="7">)</tspan><tspan font-size="10" dy="-7">−1</tspan><tspan dy="7">O</tspan><tspan font-size="10">i,j−1</tspan>(FP32) + O<tspan font-size="10">ij</tspan>(FP22) ;</text>
<text x="603" y="1370" textLength="52" lengthAdjust="spacingAndGlyphs" font-weight="bold">end for</text>
<text x="603" y="1388" textLength="555" lengthAdjust="spacingAndGlyphs">Load <tspan fill="#2222DD">δ<tspan font-size="10">V</tspan></tspan> into an SM ;   O<tspan font-size="10">i</tspan> = diag(l<tspan font-size="10">i,Tn</tspan>)<tspan font-size="10" dy="-7">−1</tspan><tspan dy="7">O</tspan><tspan font-size="10">i,Tn</tspan>(FP32) <tspan fill="#2222DD">/448 ∗ δ<tspan font-size="10">V</tspan></tspan> ;   Write O<tspan font-size="10">i</tspan> ;</text>
</g>
<rect x="613" y="1317" width="464" height="41" fill="none" stroke="#333" stroke-width="1.2"/>

<!-- bottom algorithm boxes -->
<rect x="59" y="1477" width="487" height="425" rx="6" fill="#fff" stroke="#333" stroke-width="2"/>
<rect x="547" y="1477" width="447" height="425" rx="6" fill="#fff" stroke="#333" stroke-width="2"/>
<rect x="995" y="1477" width="173" height="425" rx="6" fill="#fff" stroke="#333" stroke-width="2"/>

<g class="s" font-weight="bold" fill="#000">
<text x="67" y="1500" font-size="17" textLength="220" lengthAdjust="spacingAndGlyphs">Quantization in each Warp</text>
<text x="558" y="1500" font-size="17" textLength="137" lengthAdjust="spacingAndGlyphs">MMA.m16n8k64</text>
<text x="1006" y="1500" font-size="17" textLength="125" lengthAdjust="spacingAndGlyphs">Dequantization</text>
<text x="601" y="1894" font-size="15" textLength="285" lengthAdjust="spacingAndGlyphs">Each Thread Corresponds to One Scale</text>
</g>

<!-- warp box dashed connections -->
<g stroke="#222" stroke-width="1" stroke-dasharray="4 3" fill="none">
<path d="M119,1586L172,1550M119,1586L172,1663M119,1586L172,1800M119,1750L172,1573M119,1750L172,1686M119,1750L172,1822"/>
<path d="M405,1528L484,1586M405,1551L484,1586M405,1637L484,1586M405,1660L484,1586M405,1776L484,1586M405,1799L484,1586"/>
<path d="M405,1573L484,1750M405,1595L484,1750M405,1682L484,1750M405,1705L484,1750M405,1822L484,1750M405,1844L484,1750"/>
</g>
<g stroke="#555" stroke-width="1" stroke-dasharray="3 2">
<rect x="172" y="1539" width="99" height="23" fill="#F4B8B8"/><rect x="172" y="1562" width="99" height="22" fill="#BFF8FF"/>
<rect x="172" y="1652" width="99" height="22" fill="#F4B8B8"/><rect x="172" y="1674" width="99" height="23" fill="#BFF8FF"/>
<rect x="172" y="1788" width="99" height="23" fill="#F4B8B8"/><rect x="172" y="1811" width="99" height="22" fill="#BFF8FF"/>
<rect x="307" y="1517" width="98" height="22" fill="#FFFFB0"/><rect x="307" y="1539" width="98" height="22" fill="#FFFFB0"/>
<rect x="307" y="1561" width="98" height="23" fill="#B8F5B0"/><rect x="307" y="1584" width="98" height="22" fill="#B8F5B0"/>
<rect x="307" y="1626" width="98" height="22" fill="#FFFFB0"/><rect x="307" y="1648" width="98" height="22" fill="#FFFFB0"/>
<rect x="307" y="1670" width="98" height="23" fill="#B8F5B0"/><rect x="307" y="1693" width="98" height="23" fill="#B8F5B0"/>
<rect x="307" y="1765" width="98" height="22" fill="#FFFFB0"/><rect x="307" y="1787" width="98" height="23" fill="#FFFFB0"/>
<rect x="307" y="1810" width="98" height="22" fill="#B8F5B0"/><rect x="307" y="1832" width="98" height="23" fill="#B8F5B0"/>
</g>
<g class="tk" fill="#000" text-anchor="middle" font-size="13">
<text x="221" y="1556">Token0</text><text x="221" y="1578">Token1</text><text x="221" y="1668">Token8</text><text x="221" y="1690">Token9</text>
<text x="221" y="1805">Token24</text><text x="221" y="1827">Token25</text>
<text x="356" y="1533">Token0</text><text x="356" y="1555">Token1</text><text x="356" y="1578">Token2</text><text x="356" y="1600">Token3</text>
<text x="356" y="1642">Token8</text><text x="356" y="1664">Token9</text><text x="356" y="1687">Token10</text><text x="356" y="1709">Token11</text>
<text x="356" y="1781">Token56</text><text x="356" y="1804">Token57</text><text x="356" y="1826">Token58</text><text x="356" y="1849">Token59</text>
</g>
<g fill="#000" font-size="22" font-weight="bold" text-anchor="middle" class="s">
<text x="221" y="1622">• • •</text><text x="356" y="1622">• • •</text><text x="221" y="1746">• • •</text><text x="356" y="1746">• • •</text>
<text x="93" y="1814">• • •</text><text x="512" y="1814">• • •</text>
</g>
<rect x="69" y="1574" width="48" height="24" fill="#F4B8B8"/><rect x="69" y="1738" width="48" height="25" fill="#BFF8FF"/>
<rect x="486" y="1574" width="54" height="24" fill="#FFFFB0"/><rect x="486" y="1738" width="54" height="25" fill="#B8F5B0"/>
<g class="s" font-style="italic" font-size="21" fill="#000">
<text x="70" y="1594">δ<tspan font-size="13" dy="4">Q</tspan><tspan dy="-4">[0]</tspan></text>
<text x="70" y="1758">δ<tspan font-size="13" dy="4">Q</tspan><tspan dy="-4">[1]</tspan></text>
<text x="70" y="1862">δ<tspan font-size="13" dy="4">Q</tspan><tspan dy="-4">[7]</tspan></text>
<text x="488" y="1594">δ<tspan font-size="13" dy="4">K</tspan><tspan dy="-4">[0]</tspan></text>
<text x="488" y="1758">δ<tspan font-size="13" dy="4">K</tspan><tspan dy="-4">[1]</tspan></text>
<text x="488" y="1862">δ<tspan font-size="13" dy="4">K</tspan><tspan dy="-4">[3]</tspan></text>
<text x="203" y="1886" font-size="24">Q<tspan font-size="15" dy="4">w</tspan></text>
<text x="346" y="1886" font-size="24">K<tspan font-size="15" dy="4">j</tspan></text>
</g>

<!-- MMA box -->
<g class="s" font-style="italic" fill="#000">
<text x="558" y="1522" font-size="21">C = AB</text>
<text x="692" y="1527" font-size="24">B</text>
<text x="671" y="1549" font-size="15">(K̂ᵀ)</text>
<text x="564" y="1733" font-size="28">A</text>
<text x="560" y="1763" font-size="16">(Q̂)</text>
<text x="948" y="1733" font-size="28">C</text>
<text x="931" y="1763" font-size="15">(Q̂K̂ᵀ)</text>
</g>
<g stroke="#555" stroke-width="1" stroke-dasharray="3 2">
<rect x="718" y="1489" width="26.4" height="64" fill="#FFFFB0"/><rect x="744.4" y="1489" width="26.4" height="64" fill="#FFFFB0"/>
<rect x="770.8" y="1489" width="26.4" height="64" fill="#B8F5B0"/><rect x="797.2" y="1489" width="26.4" height="64" fill="#B8F5B0"/>
<rect x="823.6" y="1489" width="26.4" height="64" fill="#D4A030"/><rect x="850" y="1489" width="26.4" height="64" fill="#D4A030"/>
<rect x="876.4" y="1489" width="26.4" height="64" fill="#E04860"/><rect x="902.8" y="1489" width="26.4" height="64" fill="#E04860"/>
</g>
<g class="tk" fill="#000" text-anchor="middle" font-size="13">
<text transform="translate(736,1521) rotate(-90)">Token0</text><text transform="translate(762.4,1521) rotate(-90)">Token1</text>
<text transform="translate(788.8,1521) rotate(-90)">Token2</text><text transform="translate(815.2,1521) rotate(-90)">Token3</text>
<text transform="translate(841.6,1521) rotate(-90)">Token4</text><text transform="translate(868,1521) rotate(-90)">Token5</text>
<text transform="translate(894.4,1521) rotate(-90)">Token6</text><text transform="translate(920.8,1521) rotate(-90)">Token7</text>
</g>
<g stroke="#444" stroke-width="1">
<rect x="599" y="1560" width="95" height="19.8" fill="#F4B8B8"/><rect x="599" y="1579.8" width="95" height="19.8" fill="#BFF8FF"/>
<rect x="599" y="1599.6" width="95" height="19.8" fill="#F8B8F8"/><rect x="599" y="1619.4" width="95" height="19.8" fill="#C8ECD4"/>
<rect x="599" y="1639.2" width="95" height="19.8" fill="#B8B8F8"/><rect x="599" y="1659" width="95" height="19.8" fill="#F08848"/>
<rect x="599" y="1678.8" width="95" height="19.8" fill="#60B040"/><rect x="599" y="1698.6" width="95" height="19.8" fill="#3878D8"/>
<rect x="599" y="1718.4" width="95" height="19.8" fill="#F4B8B8"/><rect x="599" y="1738.2" width="95" height="19.8" fill="#BFF8FF"/>
<rect x="599" y="1758" width="95" height="19.8" fill="#F8B8F8"/><rect x="599" y="1777.8" width="95" height="19.8" fill="#C8ECD4"/>
<rect x="599" y="1797.6" width="95" height="19.8" fill="#B8B8F8"/><rect x="599" y="1817.4" width="95" height="19.8" fill="#F08848"/>
<rect x="599" y="1837.2" width="95" height="19.8" fill="#60B040"/><rect x="599" y="1857" width="95" height="19.8" fill="#3878D8"/>
</g>
<g class="tk" fill="#000" text-anchor="middle" font-size="13">
<text x="646" y="1575">Token0</text><text x="646" y="1595">Token1</text><text x="646" y="1614">Token2</text><text x="646" y="1634">Token3</text>
<text x="646" y="1654">Token4</text><text x="646" y="1674">Token5</text><text x="646" y="1694">Token6</text><text x="646" y="1713">Token7</text>
<text x="646" y="1733">Token8</text><text x="646" y="1753">Token9</text><text x="646" y="1773">Token10</text><text x="646" y="1793">Token11</text>
<text x="646" y="1812">Token12</text><text x="646" y="1832">Token13</text><text x="646" y="1852">Token14</text><text x="646" y="1872">Token15</text>
</g>
<!-- C grid -->
<rect x="718" y="1560" width="52.8" height="19.8" fill="#888"/><rect x="771" y="1579.8" width="52.8" height="19.8" fill="#CCC"/>
<rect x="876.4" y="1698.6" width="52.8" height="19.8" fill="#888"/>
<rect x="718" y="1718.4" width="52.8" height="19.8" fill="#888"/><rect x="771" y="1738.2" width="52.8" height="19.8" fill="#CCC"/>
<rect x="876.4" y="1857" width="52.8" height="19.8" fill="#888"/>
<g stroke="#666" stroke-width="1" stroke-dasharray="3 2" fill="none">
<path d="M718,1560V1877M744.4,1560V1877M770.8,1560V1877M797.2,1560V1877M823.6,1560V1877M850,1560V1877M876.4,1560V1877M902.8,1560V1877M929.2,1560V1877"/>
<path d="M718,1560H929M718,1579.8H929M718,1599.6H929M718,1718.4H929M718,1738.2H929M718,1758H929M718,1698.6H929M718,1857H929M718,1877H929"/>
</g>
<g stroke="#222" stroke-width="1.2" stroke-dasharray="4 2" fill="none">
<path d="M720,1609.5H925M925,1609.5L720,1629.3H925M925,1629.3L720,1649.1H925M925,1649.1L720,1668.9H925M925,1668.9L720,1688.7H925"/>
<path d="M720,1767.9H925M925,1767.9L720,1787.7H925M925,1787.7L720,1807.5H925M925,1807.5L720,1827.3H925M925,1827.3L720,1847.1H925"/>
</g>
<g class="tc" fill="#000" text-anchor="middle">
<text x="731" y="1574">T0</text><text x="757" y="1574">T0</text><text x="784" y="1574">T1</text><text x="810" y="1574">T1</text><text x="837" y="1574">T2</text><text x="863" y="1574">T2</text><text x="890" y="1574">T3</text><text x="916" y="1574">T3</text>
<text x="731" y="1594">T4</text><text x="757" y="1594">T4</text><text x="784" y="1594">T5</text><text x="810" y="1594">T5</text><text x="837" y="1594">T6</text><text x="863" y="1594">T6</text><text x="890" y="1594">T7</text><text x="916" y="1594">T7</text>
<text x="731" y="1713">T28</text><text x="757" y="1713">T28</text><text x="784" y="1713">T29</text><text x="810" y="1713">T29</text><text x="837" y="1713">T30</text><text x="863" y="1713">T30</text><text x="890" y="1713">T31</text><text x="916" y="1713">T31</text>
<text x="731" y="1732">T0</text><text x="757" y="1732">T0</text><text x="784" y="1732">T1</text><text x="810" y="1732">T1</text><text x="837" y="1732">T2</text><text x="863" y="1732">T2</text><text x="890" y="1732">T3</text><text x="916" y="1732">T3</text>
<text x="731" y="1752">T4</text><text x="757" y="1752">T4</text><text x="784" y="1752">T5</text><text x="810" y="1752">T5</text><text x="837" y="1752">T6</text><text x="863" y="1752">T6</text><text x="890" y="1752">T7</text><text x="916" y="1752">T7</text>
<text x="731" y="1871">T28</text><text x="757" y="1871">T28</text><text x="784" y="1871">T29</text><text x="810" y="1871">T29</text><text x="837" y="1871">T30</text><text x="863" y="1871">T30</text><text x="890" y="1871">T31</text><text x="916" y="1871">T31</text>
</g>

<!-- Dequant box -->
<rect x="1081" y="1510" width="56" height="25" fill="#FFFFB0"/>
<rect x="1003" y="1565" width="51" height="26" fill="#F4B8B8"/>
<rect x="1084" y="1559" width="53" height="38" fill="#888" stroke="#666" stroke-dasharray="3 2"/>
<rect x="1081" y="1621" width="56" height="25" fill="#B8F5B0"/>
<rect x="1003" y="1676" width="51" height="25" fill="#BFF8FF"/>
<rect x="1084" y="1669" width="53" height="39" fill="#CCC" stroke="#888" stroke-dasharray="3 2"/>
<rect x="1081" y="1741" width="56" height="25" fill="#E04860"/>
<rect x="1003" y="1798" width="51" height="25" fill="#3878D8"/>
<rect x="1084" y="1792" width="53" height="38" fill="#888" stroke="#666" stroke-dasharray="3 2"/>
<path d="M1084,1578H1137M1110,1559V1597M1084,1688H1137M1110,1669V1708M1084,1811H1137M1110,1792V1830" stroke="#555" stroke-dasharray="3 2"/>
<g class="tc" fill="#000" text-anchor="middle">
<text x="1097" y="1573">T0</text><text x="1123" y="1573">T0</text><text x="1097" y="1592">T0</text><text x="1123" y="1592">T0</text>
<text x="1097" y="1683">T5</text><text x="1123" y="1683">T5</text><text x="1097" y="1703">T5</text><text x="1123" y="1703">T5</text>
<text x="1097" y="1806">T31</text><text x="1123" y="1806">T31</text><text x="1097" y="1825">T31</text><text x="1123" y="1825">T31</text>
</g>
<g class="s" font-style="italic" font-size="21" fill="#000">
<text x="1083" y="1530">δ<tspan font-size="13" dy="4">K</tspan><tspan dy="-4">[0]</tspan></text>
<text x="1004" y="1585">δ<tspan font-size="13" dy="4">Q</tspan><tspan dy="-4">[0]</tspan></text>
<text x="1083" y="1641">δ<tspan font-size="13" dy="4">K</tspan><tspan dy="-4">[1]</tspan></text>
<text x="1004" y="1696">δ<tspan font-size="13" dy="4">Q</tspan><tspan dy="-4">[1]</tspan></text>
<text x="1083" y="1761">δ<tspan font-size="13" dy="4">K</tspan><tspan dy="-4">[3]</tspan></text>
<text x="1004" y="1818">δ<tspan font-size="13" dy="4">Q</tspan><tspan dy="-4">[7]</tspan></text>
<text x="1014" y="1890" font-size="20">ψ<tspan font-size="12" dy="5">δQδK</tspan><tspan font-size="12" dx="-28" dy="-14">−1</tspan><tspan dx="14" dy="9">(Q̂K̂ᵀ)</tspan></text>
</g>
<g class="s" font-size="24" fill="#000" text-anchor="middle">
<text x="1110" y="1556">×</text><text x="1068" y="1587">×</text>
<text x="1110" y="1667">×</text><text x="1068" y="1697">×</text>
<text x="1110" y="1787">×</text><text x="1068" y="1819">×</text>
<text x="1110" y="1732" font-weight="bold" font-size="20">• • •</text>
</g>
<path d="M1103,1837h14v10h8l-15,11l-15,-11h8z" fill="#fff" stroke="#000" stroke-width="1.5"/>

<!-- ============ RESULTS TOP BOXES ============ -->
<rect x="1255" y="430" width="250" height="258" rx="14" fill="#fff" stroke="#111" stroke-width="3"/>
<rect x="1507" y="430" width="877" height="258" rx="14" fill="#fff" stroke="#111" stroke-width="3"/>
<rect x="1255" y="690" width="1129" height="313" rx="14" fill="#fff" stroke="#111" stroke-width="3"/>

<g class="a">
<text x="1261" y="459" font-size="25" font-weight="bold" textLength="102" lengthAdjust="spacingAndGlyphs">RTX4090</text>
<path d="M1277,654V490M1277,654H1486" stroke="#555" stroke-width="1.5"/>
<polygon points="1272,497 1282,497 1277,481" fill="#000"/>
<rect x="1292" y="509" width="34" height="12" fill="url(#mR)" stroke="#222"/>
<text x="1341" y="521" font-size="16" textLength="130" lengthAdjust="spacingAndGlyphs">FlashAttention2</text>
<rect x="1292" y="535" width="34" height="12" fill="url(#mG)" stroke="#222"/>
<text x="1341" y="547" font-size="16" textLength="128" lengthAdjust="spacingAndGlyphs">SageAttention2</text>
<rect x="1286" y="630" width="64" height="24" fill="url(#mR)" stroke="#222" stroke-width="1.5"/>
<rect x="1413" y="582" width="64" height="72" fill="url(#mG)" stroke="#222" stroke-width="1.5"/>
<text x="1300" y="624" font-size="22" font-weight="bold" textLength="37" lengthAdjust="spacingAndGlyphs">163</text>
<text x="1425" y="577" font-size="22" font-weight="bold" textLength="37" lengthAdjust="spacingAndGlyphs">481</text>
<text x="1342" y="588" font-size="22" font-weight="bold" fill="#B0102A" textLength="26" lengthAdjust="spacingAndGlyphs">3x</text>
<path d="M1353,632L1396,592" stroke="#7A5A10" stroke-width="6"/><polygon points="1388,585 1410,578 1402,600" fill="#7A5A10"/>
<text x="1286" y="671" font-size="18" textLength="191" lengthAdjust="spacingAndGlyphs">Kernel Speed (TOPS)</text>

<text x="1512" y="461" font-size="25" font-weight="bold" textLength="40" lengthAdjust="spacingAndGlyphs">L20</text>
<path d="M1521,658V492M1521,658H1742" stroke="#555" stroke-width="1.5"/>
<polygon points="1516,499 1526,499 1521,483" fill="#000"/>
<rect x="1538" y="507" width="35" height="12" fill="url(#mR)" stroke="#222"/>
<text x="1589" y="519" font-size="17" textLength="140" lengthAdjust="spacingAndGlyphs">FlashAttention2</text>
<rect x="1538" y="533" width="35" height="13" fill="url(#mG)" stroke="#222"/>
<text x="1589" y="546" font-size="17" textLength="136" lengthAdjust="spacingAndGlyphs">SageAttention2</text>
<rect x="1532" y="585" width="68" height="73" fill="url(#mR)" stroke="#222" stroke-width="1.5"/>
<rect x="1667" y="615" width="65" height="43" fill="url(#mG)" stroke="#222" stroke-width="1.5"/>
<text x="1546" y="581" font-size="22" font-weight="bold" textLength="40" lengthAdjust="spacingAndGlyphs">39s</text>
<text x="1614" y="581" font-size="22" font-weight="bold" fill="#B0102A" textLength="47" lengthAdjust="spacingAndGlyphs">1.7x</text>
<text x="1679" y="608" font-size="22" font-weight="bold" textLength="39" lengthAdjust="spacingAndGlyphs">23s</text>
<path d="M1601,581L1648,600" stroke="#7A5A10" stroke-width="6"/><polygon points="1641,590 1666,608 1636,610" fill="#7A5A10"/>
<text x="1532" y="677" font-size="18" textLength="202" lengthAdjust="spacingAndGlyphs">End-to-end Speedup</text>
</g>

<!-- heatmaps -->
<g transform="translate(1792,457) scale(17.7,20)">
<rect width="13" height="10" fill="#46C98C"/>
<g fill="#7CBF6C">
<rect x="5" y="0" width="1" height="1"/>
<rect x="0" y="1" width="4" height="1"/><rect x="6" y="1" width="1" height="1"/>
<rect x="0" y="2" width="4" height="1"/><rect x="10" y="2" width="1" height="1"/>
<rect x="0" y="3" width="3" height="1"/><rect x="5" y="3" width="4" height="1"/>
<rect x="0" y="4" width="3" height="1"/><rect x="4" y="4" width="1" height="1"/><rect x="6" y="4" width="1" height="1"/><rect x="8" y="4" width="1" height="1"/>
<rect x="0" y="5" width="4" height="1"/><rect x="5" y="5" width="2" height="1"/>
<rect x="1" y="6" width="3" height="1"/><rect x="6" y="6" width="1" height="1"/><rect x="8" y="6" width="1" height="1"/>
<rect x="0" y="7" width="1" height="1"/>
<rect x="0" y="8" width="2" height="1"/>
<rect x="0" y="9" width="1" height="1"/><rect x="3" y="9" width="1" height="1"/><rect x="5" y="9" width="1" height="1"/>
</g>
<rect x="8" y="1" width="1" height="1" fill="#E8604F"/><rect x="9" y="4" width="1" height="1" fill="#E8604F"/>
<rect x="8" y="5" width="1" height="1" fill="#E84B5E"/>
<rect x="1" y="9" width="1" height="1" fill="#E2704E"/><rect x="4" y="9" width="1" height="1" fill="#E2704E"/>
<path d="M1 0V10M2 0V10M3 0V10M4 0V10M5 0V10M6 0V10M7 0V10M8 0V10M9 0V10M10 0V10M11 0V10M12 0V10M0 1H13M0 2H13M0 3H13M0 4H13M0 5H13M0 6H13M0 7H13M0 8H13M0 9H13" stroke="#7a8f80" stroke-width="1" vector-effect="non-scaling-stroke" fill="none" opacity="0.7"/>
</g>
<g transform="translate(2068,457) scale(17.7,20)">
<rect width="13" height="10" fill="#46C98C"/>
<g fill="#7CBF6C">
<rect x="2" y="0" width="1" height="1"/>
<rect x="1" y="1" width="2" height="1"/><rect x="4" y="1" width="1" height="1"/><rect x="6" y="1" width="1" height="1"/>
<rect x="1" y="2" width="3" height="1"/><rect x="5" y="2" width="1" height="1"/>
<rect x="0" y="3" width="3" height="1"/><rect x="5" y="3" width="2" height="1"/><rect x="8" y="3" width="1" height="1"/>
<rect x="1" y="4" width="2" height="1"/><rect x="4" y="4" width="1" height="1"/><rect x="8" y="4" width="1" height="1"/>
<rect x="1" y="5" width="2" height="1"/><rect x="4" y="5" width="2" height="1"/>
<rect x="0" y="6" width="3" height="1"/><rect x="6" y="6" width="1" height="1"/><rect x="8" y="6" width="1" height="1"/>
<rect x="0" y="7" width="1" height="1"/><rect x="2" y="7" width="1" height="1"/>
<rect x="0" y="8" width="3" height="1"/><rect x="4" y="8" width="1" height="1"/>
<rect x="0" y="9" width="1" height="1"/><rect x="5" y="9" width="1" height="1"/>
</g>
<rect x="8" y="1" width="1" height="1" fill="#A3B85A"/><rect x="10" y="1" width="1" height="1" fill="#E07850"/>
<rect x="1" y="9" width="1" height="1" fill="#E2704E"/><rect x="3" y="9" width="1" height="1" fill="#E58E45"/>
<path d="M1 0V10M2 0V10M3 0V10M4 0V10M5 0V10M6 0V10M7 0V10M8 0V10M9 0V10M10 0V10M11 0V10M12 0V10M0 1H13M0 2H13M0 3H13M0 4H13M0 5H13M0 6H13M0 7H13M0 8H13M0 9H13" stroke="#7a8f80" stroke-width="1" vector-effect="non-scaling-stroke" fill="none" opacity="0.7"/>
</g>
<rect x="2324" y="457" width="10" height="200" fill="url(#cbar)"/>
<g class="d" font-size="11" fill="#000">
<text x="1907" y="453" font-size="14" text-anchor="middle" textLength="139" lengthAdjust="spacingAndGlyphs">Overall Score: 0.834</text>
<text x="2183" y="453" font-size="14" text-anchor="middle" textLength="139" lengthAdjust="spacingAndGlyphs">Overall Score: 0.854</text>
<g text-anchor="end">
<text x="1788" y="471">0.0</text><text x="1788" y="491">11.0</text><text x="1788" y="511">22.0</text><text x="1788" y="531">33.0</text><text x="1788" y="551">44.0</text>
<text x="1788" y="571">56.0</text><text x="1788" y="591">67.0</text><text x="1788" y="611">78.0</text><text x="1788" y="631">89.0</text><text x="1788" y="651">100.0</text>
<text x="2064" y="471">0.0</text><text x="2064" y="491">11.0</text><text x="2064" y="511">22.0</text><text x="2064" y="531">33.0</text><text x="2064" y="551">44.0</text>
<text x="2064" y="571">56.0</text><text x="2064" y="591">67.0</text><text x="2064" y="611">78.0</text><text x="2064" y="631">89.0</text><text x="2064" y="651">100.0</text>
<text transform="translate(1805,662) rotate(-45)">8K</text><text transform="translate(1823,662) rotate(-45)">16K</text><text transform="translate(1840,662) rotate(-45)">24K</text>
<text transform="translate(1858,662) rotate(-45)">32K</text><text transform="translate(1876,662) rotate(-45)">40K</text><text transform="translate(1894,662) rotate(-45)">48K</text>
<text transform="translate(1911,662) rotate(-45)">56K</text><text transform="translate(1929,662) rotate(-45)">64K</text><text transform="translate(1947,662) rotate(-45)">72K</text>
<text transform="translate(1964,662) rotate(-45)">80K</text><text transform="translate(1982,662) rotate(-45)">88K</text><text transform="translate(2000,662) rotate(-45)">96K</text>
<text transform="translate(2018,662) rotate(-45)">104K</text>
<text transform="translate(2081,662) rotate(-45)">8K</text><text transform="translate(2099,662) rotate(-45)">16K</text><text transform="translate(2116,662) rotate(-45)">24K</text>
<text transform="translate(2134,662) rotate(-45)">32K</text><text transform="translate(2152,662) rotate(-45)">40K</text><text transform="translate(2170,662) rotate(-45)">48K</text>
<text transform="translate(2187,662) rotate(-45)">56K</text><text transform="translate(2205,662) rotate(-45)">64K</text><text transform="translate(2223,662) rotate(-45)">72K</text>
<text transform="translate(2240,662) rotate(-45)">80K</text><text transform="translate(2258,662) rotate(-45)">88K</text><text transform="translate(2276,662) rotate(-45)">96K</text>
<text transform="translate(2294,662) rotate(-45)">104K</text>
</g>
<text x="2337" y="462">1.0</text><text x="2337" y="502">0.8</text><text x="2337" y="542">0.6</text><text x="2337" y="582">0.4</text><text x="2337" y="622">0.2</text><text x="2337" y="662">0.0</text>
<text transform="translate(2372,557) rotate(-90)" font-size="14" text-anchor="middle">Score</text>
<text transform="translate(1762,557) rotate(-90)" font-size="13" text-anchor="middle">Depth (%)</text>
</g>
<g class="a" font-weight="bold" font-size="22" text-anchor="middle" fill="#000">
<text x="1907" y="616" textLength="169" lengthAdjust="spacingAndGlyphs">FlashAttention2</text>
<text x="2183" y="616" textLength="167" lengthAdjust="spacingAndGlyphs">SageAttention2</text>
</g>

<!-- film strips -->
<g transform="translate(1517,698)"><rect width="855" height="10" fill="url(#film)"/></g>
<g transform="translate(1517,831)"><rect width="855" height="10" fill="url(#film)"/></g>
<g transform="translate(1517,852)"><rect width="855" height="10" fill="url(#film)"/></g>
<g transform="translate(1517,987)"><rect width="855" height="10" fill="url(#film)"/></g>
<use href="#imCliff" xlink:href="#imCliff" x="1517" y="708" width="211" height="123"/>
<use href="#imCliff" xlink:href="#imCliff" x="1732" y="708" width="211" height="123"/>
<use href="#imCliff" xlink:href="#imCliff" x="1947" y="708" width="211" height="123"/>
<use href="#imCliff" xlink:href="#imCliff" x="2161" y="708" width="211" height="123"/>
<use href="#imCliff" xlink:href="#imCliff" x="1517" y="862" width="211" height="125"/>
<use href="#imCliff" xlink:href="#imCliff" x="1732" y="862" width="211" height="125"/>
<use href="#imCliff" xlink:href="#imCliff" x="1947" y="862" width="211" height="125"/>
<use href="#imCliff" xlink:href="#imCliff" x="2161" y="862" width="211" height="125"/>
<rect x="1270" y="721" width="237" height="97" fill="#fff" stroke="#999" stroke-width="1.5"/>
<rect x="1266" y="862" width="241" height="127" fill="#fff" stroke="#999" stroke-width="1.5"/>
<g class="a" font-weight="bold" font-size="22" text-anchor="middle" fill="#000">
<text x="1388" y="746" textLength="198" lengthAdjust="spacingAndGlyphs">FlashAttention2:</text>
<text x="1388" y="779" textLength="224" lengthAdjust="spacingAndGlyphs">End-to-End Latency:</text>
<text x="1388" y="809" textLength="198" lengthAdjust="spacingAndGlyphs">1040s on RTX4090</text>
<text x="1387" y="886" textLength="200" lengthAdjust="spacingAndGlyphs">SageAttention2:</text>
<text x="1387" y="919" textLength="224" lengthAdjust="spacingAndGlyphs">End-to-End Latency:</text>
<text x="1387" y="950" fill="#B0102A" textLength="185" lengthAdjust="spacingAndGlyphs">577s on RTX4090</text>
<text x="1387" y="981" fill="#B0102A" textLength="147" lengthAdjust="spacingAndGlyphs">1.8x Speedup</text>
</g>

<!-- ============ SAMPLE IMAGES GRID ============ -->
<g class="a" font-weight="bold" font-size="17" text-anchor="middle" fill="#000">
<text x="1366" y="1079" textLength="186" lengthAdjust="spacingAndGlyphs">Full precision Attention</text>
<text x="1592" y="1079" textLength="152" lengthAdjust="spacingAndGlyphs">SageAttention2-8b</text>
<text x="1819" y="1079" textLength="152" lengthAdjust="spacingAndGlyphs">SageAttention2-4b</text>
<text x="2045" y="1079" textLength="98" lengthAdjust="spacingAndGlyphs">SmoothAttn</text>
<text x="2272" y="1079" textLength="92" lengthAdjust="spacingAndGlyphs">HadmdAttn</text>
</g>
<path d="M1480,1066V1511M1706,1066V1511M1932,1066V1511M2158,1066V1511" stroke="#222" stroke-width="1.5" stroke-dasharray="7 5"/>
<use href="#imCity" xlink:href="#imCity" x="1259" y="1093" width="213" height="126"/>
<use href="#imCity" xlink:href="#imCity" x="1486" y="1093" width="213" height="126"/>
<use href="#imCity" xlink:href="#imCity" x="1712" y="1093" width="213" height="126"/>
<use href="#imCityB" xlink:href="#imCityB" x="1939" y="1093" width="213" height="126"/>
<use href="#imCityB" xlink:href="#imCityB" x="2165" y="1093" width="213" height="126"/>
<use href="#imSnow" xlink:href="#imSnow" x="1259" y="1238" width="213" height="126"/>
<use href="#imSnow" xlink:href="#imSnow" x="1486" y="1238" width="213" height="126"/>
<use href="#imSnow" xlink:href="#imSnow" x="1712" y="1238" width="213" height="126"/>
<use href="#imSnowB" xlink:href="#imSnowB" x="1939" y="1238" width="213" height="126"/>
<use href="#imSnowB" xlink:href="#imSnowB" x="2165" y="1238" width="213" height="126"/>
<use href="#imSea" xlink:href="#imSea" x="1259" y="1383" width="213" height="126"/>
<use href="#imSea" xlink:href="#imSea" x="1486" y="1383" width="213" height="126"/>
<use href="#imSea" xlink:href="#imSea" x="1712" y="1383" width="213" height="126"/>
<use href="#imSeaB" xlink:href="#imSeaB" x="1939" y="1383" width="213" height="126"/>
<use href="#imSeaB" xlink:href="#imSeaB" x="2165" y="1383" width="213" height="126"/>

<!-- lower video strips -->
<g class="a" font-weight="bold" font-size="22" fill="#000">
<text x="1250" y="1640" textLength="129" lengthAdjust="spacingAndGlyphs">SageAttn2-8b</text>
<text x="1312" y="1776" text-anchor="middle" textLength="144" lengthAdjust="spacingAndGlyphs">FlashAttention3</text>
<text x="1310" y="1803" text-anchor="middle" textLength="42" lengthAdjust="spacingAndGlyphs">(fp8)</text>
</g>
<g clip-path="url(#lowClip)">
<use href="#imMount" xlink:href="#imMount" x="1385" y="1568" width="198" height="124"/>
<use href="#imMount" xlink:href="#imMount" x="1591" y="1568" width="198" height="124"/>
<use href="#imMount" xlink:href="#imMount" x="1798" y="1568" width="198" height="124"/>
<use href="#imMount" xlink:href="#imMount" x="2005" y="1568" width="198" height="124"/>
<use href="#imMount" xlink:href="#imMount" x="2212" y="1568" width="198" height="124"/>
<rect x="1388" y="1710" width="198" height="124" fill="url(#n1)"/>
<rect x="1594" y="1710" width="198" height="124" fill="url(#n2)"/>
<rect x="1800" y="1710" width="198" height="124" fill="url(#n3)"/>
<rect x="2007" y="1710" width="198" height="124" fill="url(#n4)"/>
<rect x="2213" y="1710" width="198" height="124" fill="url(#n5)"/>
<g transform="translate(1388,1836)"><rect width="1022" height="14" fill="url(#film2)"/></g>
</g>

<!-- ============ CHART 1: RTX4090 ============ -->
<g class="d" fill="#000">
<text x="2809" y="456" font-size="21" text-anchor="middle" textLength="471" lengthAdjust="spacingAndGlyphs">RTX4090, (Head dim = 128, causal = False)</text>
<g font-size="20" text-anchor="end">
<text x="2463" y="709">0</text><text x="2463" y="659">200</text><text x="2463" y="609">400</text><text x="2463" y="559">600</text><text x="2463" y="509">800</text>
</g>
<path d="M2466,702H2472M2466,652H2472M2466,602H2472M2466,552H2472M2466,502H2472M2537,702V708M2646,702V708M2755.5,702V708M2865,702V708M2974,702V708M3083,702V708" stroke="#333" stroke-width="1.2"/>
<g font-size="20" text-anchor="middle">
<text x="2537" y="728">1K</text><text x="2646" y="728">2K</text><text x="2755" y="728">4K</text><text x="2865" y="728">8K</text><text x="2974" y="728">16K</text><text x="3083" y="728">32K</text>
</g>
<text x="2809" y="754" font-size="20" text-anchor="middle" textLength="176" lengthAdjust="spacingAndGlyphs">Sequence Length</text>
<text transform="translate(2420,583) rotate(-90)" font-size="20" text-anchor="middle" textLength="150" lengthAdjust="spacingAndGlyphs">Speed (TOPS)</text>
</g>
<g stroke="#000" stroke-width="1.3">
<g transform="translate(2484.8,702)">
<rect x="0" y="-11.5" width="17.4" height="11.5" fill="#000"/><rect x="17.4" y="-23.25" width="17.4" height="23.25" fill="#7F7F7F"/><rect x="34.8" y="-36.25" width="17.4" height="36.25" fill="url(#hX)"/><rect x="52.2" y="-64.75" width="17.4" height="64.75" fill="url(#hO)"/><rect x="69.6" y="-84.5" width="17.4" height="84.5" fill="url(#hY)"/><rect x="87" y="-99.75" width="17.4" height="99.75" fill="url(#hG)"/>
</g>
<g transform="translate(2593.8,702)">
<rect x="0" y="-10.5" width="17.4" height="10.5" fill="#000"/><rect x="17.4" y="-24" width="17.4" height="24" fill="#7F7F7F"/><rect x="34.8" y="-37.75" width="17.4" height="37.75" fill="url(#hX)"/><rect x="52.2" y="-75.75" width="17.4" height="75.75" fill="url(#hO)"/><rect x="69.6" y="-92.5" width="17.4" height="92.5" fill="url(#hY)"/><rect x="87" y="-102.25" width="17.4" height="102.25" fill="url(#hG)"/>
</g>
<g transform="translate(2703.3,702)">
<rect x="0" y="-13.75" width="17.4" height="13.75" fill="#000"/><rect x="17.4" y="-26" width="17.4" height="26" fill="#7F7F7F"/><rect x="34.8" y="-40.25" width="17.4" height="40.25" fill="url(#hX)"/><rect x="52.2" y="-80.5" width="17.4" height="80.5" fill="url(#hO)"/><rect x="69.6" y="-99.25" width="17.4" height="99.25" fill="url(#hY)"/><rect x="87" y="-109.75" width="17.4" height="109.75" fill="url(#hG)"/>
</g>
<g transform="translate(2812.8,702)">
<rect x="17.4" y="-26.25" width="17.4" height="26.25" fill="#7F7F7F"/><rect x="34.8" y="-41" width="17.4" height="41" fill="url(#hX)"/><rect x="52.2" y="-79.25" width="17.4" height="79.25" fill="url(#hO)"/><rect x="69.6" y="-105" width="17.4" height="105" fill="url(#hY)"/><rect x="87" y="-116.25" width="17.4" height="116.25" fill="url(#hG)"/>
</g>
<g transform="translate(2921.8,702)">
<rect x="17.4" y="-26.5" width="17.4" height="26.5" fill="#7F7F7F"/><rect x="34.8" y="-41" width="17.4" height="41" fill="url(#hX)"/><rect x="52.2" y="-80.75" width="17.4" height="80.75" fill="url(#hO)"/><rect x="69.6" y="-106" width="17.4" height="106" fill="url(#hY)"/><rect x="87" y="-117.75" width="17.4" height="117.75" fill="url(#hG)"/>
</g>
<g transform="translate(3030.8,702)">
<rect x="17.4" y="-26.5" width="17.4" height="26.5" fill="#7F7F7F"/><rect x="34.8" y="-41" width="17.4" height="41" fill="url(#hX)"/><rect x="52.2" y="-80.5" width="17.4" height="80.5" fill="url(#hO)"/><rect x="69.6" y="-107.5" width="17.4" height="107.5" fill="url(#hY)"/><rect x="87" y="-120.25" width="17.4" height="120.25" fill="url(#hG)"/>
</g>
</g>
<g class="bl" fill="#000">
<g transform="translate(2484.8,702)">
<text transform="translate(15.7,-15.5) rotate(-90)">46</text><text transform="translate(33.1,-27.3) rotate(-90)">93</text><text transform="translate(50.5,-40.3) rotate(-90)">145</text><text transform="translate(67.9,-68.8) rotate(-90)">259</text><text transform="translate(85.3,-88.5) rotate(-90)">338</text><text transform="translate(102.7,-103.8) rotate(-90)">399</text>
</g>
<g transform="translate(2593.8,702)">
<text transform="translate(15.7,-14.5) rotate(-90)">42</text><text transform="translate(33.1,-28) rotate(-90)">96</text><text transform="translate(50.5,-41.8) rotate(-90)">151</text><text transform="translate(67.9,-79.8) rotate(-90)">303</text><text transform="translate(85.3,-96.5) rotate(-90)">370</text><text transform="translate(102.7,-106.3) rotate(-90)">409</text>
</g>
<g transform="translate(2703.3,702)">
<text transform="translate(15.7,-17.8) rotate(-90)">55</text><text transform="translate(33.1,-30) rotate(-90)">104</text><text transform="translate(50.5,-44.3) rotate(-90)">161</text><text transform="translate(67.9,-84.5) rotate(-90)">322</text><text transform="translate(85.3,-103.3) rotate(-90)">397</text><text transform="translate(102.7,-113.8) rotate(-90)">439</text>
</g>
<g transform="translate(2812.8,702)">
<text transform="translate(15.7,-3) rotate(-90)">OOM</text><text transform="translate(33.1,-30.3) rotate(-90)">105</text><text transform="translate(50.5,-45) rotate(-90)">164</text><text transform="translate(67.9,-83.3) rotate(-90)">317</text><text transform="translate(85.3,-109) rotate(-90)">420</text><text transform="translate(102.7,-120.3) rotate(-90)">465</text>
</g>
<g transform="translate(2921.8,702)">
<text transform="translate(15.7,-3) rotate(-90)">OOM</text><text transform="translate(33.1,-30.5) rotate(-90)">106</text><text transform="translate(50.5,-45) rotate(-90)">164</text><text transform="translate(67.9,-84.8) rotate(-90)">323</text><text transform="translate(85.3,-110) rotate(-90)">424</text><text transform="translate(102.7,-121.8) rotate(-90)">471</text>
</g>
<g transform="translate(3030.8,702)">
<text transform="translate(15.7,-3) rotate(-90)">OOM</text><text transform="translate(33.1,-30.5) rotate(-90)">106</text><text transform="translate(50.5,-45) rotate(-90)">164</text><text transform="translate(67.9,-84.5) rotate(-90)">322</text><text transform="translate(85.3,-111.5) rotate(-90)">430</text><text transform="translate(102.7,-124.3) rotate(-90)">481</text>
</g>
</g>
<rect x="2472" y="465" width="676" height="237" fill="none" stroke="#444" stroke-width="1.5"/>
<rect x="2523" y="476" width="573" height="66" rx="4" fill="#fff" fill-opacity="0.85" stroke="#ccc"/>
<g stroke="#000" stroke-width="1.3">
<rect x="2530" y="484" width="40" height="16" fill="#000"/><rect x="2530" y="515" width="40" height="16" fill="#7F7F7F"/>
<rect x="2707" y="484" width="40" height="16" fill="url(#hX)"/><rect x="2707" y="515" width="40" height="16" fill="url(#hO)"/>
<rect x="2902" y="484" width="40" height="16" fill="url(#hY)"/><rect x="2902" y="515" width="40" height="16" fill="url(#hG)"/>
</g>
<g class="d" font-size="20" fill="#000">
<text x="2584" y="499">Torch</text><text x="2584" y="530">xformers</text>
<text x="2763" y="499">FlashAttn2</text><text x="2763" y="530">SageAttn1</text>
<text x="2957" y="499">SageAttn2-8b</text><text x="2957" y="530">SageAttn2-4b</text>
</g>

<!-- ============ CHART 2: H100 ============ -->
<g class="d" fill="#000">
<text x="2812" y="817" font-size="21" text-anchor="middle" textLength="409" lengthAdjust="spacingAndGlyphs">H100, Head Dim = 128, causal = False</text>
<g font-size="20" text-anchor="end">
<text x="2474" y="1061">0</text><text x="2474" y="996.5">500</text><text x="2474" y="932">1000</text><text x="2474" y="867.5">1500</text>
</g>
<path d="M2476,1054H2482M2476,989.5H2482M2476,925H2482M2476,860.5H2482M2547,1054V1060M2653,1054V1060M2759,1054V1060M2865,1054V1060M2970,1054V1060M3076,1054V1060" stroke="#333" stroke-width="1.2"/>
<g font-size="20" text-anchor="middle">
<text x="2547" y="1079">1K</text><text x="2653" y="1079">2K</text><text x="2759" y="1079">4K</text><text x="2865" y="1079">8K</text><text x="2970" y="1079">16K</text><text x="3076" y="1079">32K</text>
</g>
<text x="2812" y="1104" font-size="20" text-anchor="middle" textLength="176" lengthAdjust="spacingAndGlyphs">Sequence Length</text>
<text transform="translate(2420,940) rotate(-90)" font-size="20" text-anchor="middle" textLength="150" lengthAdjust="spacingAndGlyphs">Speed (TOPS)</text>
</g>
<g stroke="#000" stroke-width="1.3">
<g transform="translate(2496.6,1054)">
<rect x="0" y="-21.4" width="16.8" height="21.4" fill="#7F7F7F"/><rect x="16.8" y="-41.2" width="16.8" height="41.2" fill="url(#hX)"/><rect x="33.6" y="-55.5" width="16.8" height="55.5" fill="url(#hO)"/><rect x="50.4" y="-52.9" width="16.8" height="52.9" fill="url(#hY)"/><rect x="67.2" y="-79.2" width="16.8" height="79.2" fill="url(#hG)"/><rect x="84" y="-87.2" width="16.8" height="87.2" fill="url(#hT)"/>
</g>
<g transform="translate(2602.6,1054)">
<rect x="0" y="-22.6" width="16.8" height="22.6" fill="#7F7F7F"/><rect x="16.8" y="-44.2" width="16.8" height="44.2" fill="url(#hX)"/><rect x="33.6" y="-60.8" width="16.8" height="60.8" fill="url(#hO)"/><rect x="50.4" y="-57.3" width="16.8" height="57.3" fill="url(#hY)"/><rect x="67.2" y="-99.6" width="16.8" height="99.6" fill="url(#hG)"/><rect x="84" y="-104.1" width="16.8" height="104.1" fill="url(#hT)"/>
</g>
<g transform="translate(2708.6,1054)">
<rect x="0" y="-23.3" width="16.8" height="23.3" fill="#7F7F7F"/><rect x="16.8" y="-43.7" width="16.8" height="43.7" fill="url(#hX)"/><rect x="33.6" y="-63.9" width="16.8" height="63.9" fill="url(#hO)"/><rect x="50.4" y="-56.9" width="16.8" height="56.9" fill="url(#hY)"/><rect x="67.2" y="-107.1" width="16.8" height="107.1" fill="url(#hG)"/><rect x="84" y="-109.9" width="16.8" height="109.9" fill="url(#hT)"/>
</g>
<g transform="translate(2814.6,1054)">
<rect x="0" y="-23.2" width="16.8" height="23.2" fill="#7F7F7F"/><rect x="16.8" y="-43.7" width="16.8" height="43.7" fill="url(#hX)"/><rect x="33.6" y="-66.6" width="16.8" height="66.6" fill="url(#hO)"/><rect x="50.4" y="-59.2" width="16.8" height="59.2" fill="url(#hY)"/><rect x="67.2" y="-114.9" width="16.8" height="114.9" fill="url(#hG)"/><rect x="84" y="-116.1" width="16.8" height="116.1" fill="url(#hT)"/>
</g>
<g transform="translate(2919.6,1054)">
<rect x="0" y="-23.3" width="16.8" height="23.3" fill="#7F7F7F"/><rect x="16.8" y="-43.7" width="16.8" height="43.7" fill="url(#hX)"/><rect x="33.6" y="-66.7" width="16.8" height="66.7" fill="url(#hO)"/><rect x="50.4" y="-60" width="16.8" height="60" fill="url(#hY)"/><rect x="67.2" y="-113.3" width="16.8" height="113.3" fill="url(#hG)"/><rect x="84" y="-112.4" width="16.8" height="112.4" fill="url(#hT)"/>
</g>
<g transform="translate(3025.6,1054)">
<rect x="0" y="-23.2" width="16.8" height="23.2" fill="#7F7F7F"/><rect x="16.8" y="-43.7" width="16.8" height="43.7" fill="url(#hX)"/><rect x="33.6" y="-66.8" width="16.8" height="66.8" fill="url(#hO)"/><rect x="50.4" y="-60.6" width="16.8" height="60.6" fill="url(#hY)"/><rect x="67.2" y="-115.1" width="16.8" height="115.1" fill="url(#hG)"/><rect x="84" y="-113.8" width="16.8" height="113.8" fill="url(#hT)"/>
</g>
</g>
<g class="bl" fill="#000">
<g transform="translate(2496.6,1054)">
<text transform="translate(15.4,-25.4) rotate(-90)">166</text><text transform="translate(32.2,-45.2) rotate(-90)">319</text><text transform="translate(49,-59.5) rotate(-90)">430</text><text transform="translate(65.8,-56.9) rotate(-90)">410</text><text transform="translate(82.6,-83.2) rotate(-90)">614</text><text transform="translate(99.4,-91.2) rotate(-90)">676</text>
</g>
<g transform="translate(2602.6,1054)">
<text transform="translate(15.4,-26.6) rotate(-90)">175</text><text transform="translate(32.2,-48.2) rotate(-90)">343</text><text transform="translate(49,-64.8) rotate(-90)">471</text><text transform="translate(65.8,-61.3) rotate(-90)">444</text><text transform="translate(82.6,-103.6) rotate(-90)">772</text><text transform="translate(99.4,-108.1) rotate(-90)">807</text>
</g>
<g transform="translate(2708.6,1054)">
<text transform="translate(15.4,-27.3) rotate(-90)">181</text><text transform="translate(32.2,-47.7) rotate(-90)">339</text><text transform="translate(49,-67.9) rotate(-90)">495</text><text transform="translate(65.8,-60.9) rotate(-90)">441</text><text transform="translate(82.6,-111.1) rotate(-90)">830</text><text transform="translate(99.4,-113.9) rotate(-90)">852</text>
</g>
<g transform="translate(2814.6,1054)">
<text transform="translate(15.4,-27.2) rotate(-90)">180</text><text transform="translate(32.2,-47.7) rotate(-90)">339</text><text transform="translate(49,-70.6) rotate(-90)">516</text><text transform="translate(65.8,-63.2) rotate(-90)">459</text><text transform="translate(82.6,-118.9) rotate(-90)">891</text><text transform="translate(99.4,-120.1) rotate(-90)">900</text>
</g>
<g transform="translate(2919.6,1054)">
<text transform="translate(15.4,-27.3) rotate(-90)">181</text><text transform="translate(32.2,-47.7) rotate(-90)">339</text><text transform="translate(49,-70.7) rotate(-90)">517</text><text transform="translate(65.8,-64) rotate(-90)">465</text><text transform="translate(82.6,-117.3) rotate(-90)">878</text><text transform="translate(99.4,-116.4) rotate(-90)">871</text>
</g>
<g transform="translate(3025.6,1054)">
<text transform="translate(15.4,-27.2) rotate(-90)">180</text><text transform="translate(32.2,-47.7) rotate(-90)">339</text><text transform="translate(49,-70.8) rotate(-90)">518</text><text transform="translate(65.8,-64.6) rotate(-90)">470</text><text transform="translate(82.6,-119.1) rotate(-90)">892</text><text transform="translate(99.4,-117.8) rotate(-90)">882</text>
</g>
</g>
<rect x="2482" y="825" width="658" height="229" fill="none" stroke="#444" stroke-width="1.5"/>
<rect x="2494" y="836" width="634" height="63" rx="4" fill="#fff" fill-opacity="0.85" stroke="#ccc"/>
<g stroke="#000" stroke-width="1.3">
<rect x="2502" y="845" width="38" height="15" fill="#7F7F7F"/><rect x="2502" y="874" width="38" height="15" fill="url(#hX)"/>
<rect x="2692" y="845" width="38" height="15" fill="url(#hO)"/><rect x="2692" y="874" width="38" height="15" fill="url(#hY)"/>
<rect x="2931" y="845" width="38" height="15" fill="url(#hG)"/><rect x="2931" y="874" width="38" height="15" fill="url(#hT)"/>
</g>
<g class="d" font-size="20" fill="#000">
<text x="2555" y="859">Xformers</text><text x="2555" y="888">FlashAttn2</text>
<text x="2745" y="859">SageAttention1</text><text x="2745" y="888">FlashAttn3-fp16</text>
<text x="2984" y="859">FlashAttn3-fp8</text><text x="2984" y="888">SageAttn2-8b</text>
</g>

<!-- ============ CHART 3: L20 ============ -->
<g class="d" fill="#000">
<text x="2806" y="1164" font-size="21" text-anchor="middle" textLength="411" lengthAdjust="spacingAndGlyphs">L20, (Head dim = 128, causal = False)</text>
<g font-size="20" text-anchor="end">
<text x="2463" y="1397">0</text><text x="2463" y="1319">200</text><text x="2463" y="1241">400</text>
</g>
<path d="M2465,1390H2471M2465,1312H2471M2465,1234H2471M2536,1390V1396M2644,1390V1396M2753,1390V1396M2861,1390V1396M2970,1390V1396M3077,1390V1396" stroke="#333" stroke-width="1.2"/>
<g font-size="20" text-anchor="middle">
<text x="2536" y="1415">1K</text><text x="2644" y="1415">2K</text><text x="2753" y="1415">4K</text><text x="2861" y="1415">8K</text><text x="2970" y="1415">16K</text><text x="3077" y="1415">32K</text>
</g>
<text x="2806" y="1439" font-size="20" text-anchor="middle" textLength="176" lengthAdjust="spacingAndGlyphs">Sequence Length</text>
<text transform="translate(2420,1280) rotate(-90)" font-size="20" text-anchor="middle" textLength="140" lengthAdjust="spacingAndGlyphs">Speed (TOPS)</text>
</g>
<g stroke="#000" stroke-width="1.3">
<g transform="translate(2484.1,1390)">
<rect x="0" y="-16" width="17.3" height="16" fill="#000"/><rect x="17.3" y="-27.3" width="17.3" height="27.3" fill="#7F7F7F"/><rect x="34.6" y="-41.3" width="17.3" height="41.3" fill="url(#hX)"/><rect x="51.9" y="-46.8" width="17.3" height="46.8" fill="url(#hO)"/><rect x="69.2" y="-78.4" width="17.3" height="78.4" fill="url(#hY)"/><rect x="86.5" y="-97.1" width="17.3" height="97.1" fill="url(#hG)"/>
</g>
<g transform="translate(2592.1,1390)">
<rect x="0" y="-17.6" width="17.3" height="17.6" fill="#000"/><rect x="17.3" y="-28.1" width="17.3" height="28.1" fill="#7F7F7F"/><rect x="34.6" y="-42.9" width="17.3" height="42.9" fill="url(#hX)"/><rect x="51.9" y="-50.7" width="17.3" height="50.7" fill="url(#hO)"/><rect x="69.2" y="-81.5" width="17.3" height="81.5" fill="url(#hY)"/><rect x="86.5" y="-102.2" width="17.3" height="102.2" fill="url(#hG)"/>
</g>
<g transform="translate(2701.1,1390)">
<rect x="0" y="-18.7" width="17.3" height="18.7" fill="#000"/><rect x="17.3" y="-28.5" width="17.3" height="28.5" fill="#7F7F7F"/><rect x="34.6" y="-42.9" width="17.3" height="42.9" fill="url(#hX)"/><rect x="51.9" y="-52.7" width="17.3" height="52.7" fill="url(#hO)"/><rect x="69.2" y="-82.7" width="17.3" height="82.7" fill="url(#hY)"/><rect x="86.5" y="-103.4" width="17.3" height="103.4" fill="url(#hG)"/>
</g>
<g transform="translate(2809.1,1390)">
<rect x="17.3" y="-28.9" width="17.3" height="28.9" fill="#7F7F7F"/><rect x="34.6" y="-43.3" width="17.3" height="43.3" fill="url(#hX)"/><rect x="51.9" y="-53" width="17.3" height="53" fill="url(#hO)"/><rect x="69.2" y="-83.5" width="17.3" height="83.5" fill="url(#hY)"/><rect x="86.5" y="-104.9" width="17.3" height="104.9" fill="url(#hG)"/>
</g>
<g transform="translate(2918.1,1390)">
<rect x="17.3" y="-28.9" width="17.3" height="28.9" fill="#7F7F7F"/><rect x="34.6" y="-43.3" width="17.3" height="43.3" fill="url(#hX)"/><rect x="51.9" y="-53.4" width="17.3" height="53.4" fill="url(#hO)"/><rect x="69.2" y="-84.6" width="17.3" height="84.6" fill="url(#hY)"/><rect x="86.5" y="-106.1" width="17.3" height="106.1" fill="url(#hG)"/>
</g>
<g transform="translate(3025.1,1390)">
<rect x="17.3" y="-28.9" width="17.3" height="28.9" fill="#7F7F7F"/><rect x="34.6" y="-43.3" width="17.3" height="43.3" fill="url(#hX)"/><rect x="51.9" y="-53.8" width="17.3" height="53.8" fill="url(#hO)"/><rect x="69.2" y="-84.6" width="17.3" height="84.6" fill="url(#hY)"/><rect x="86.5" y="-106.5" width="17.3" height="106.5" fill="url(#hG)"/>
</g>
</g>
<g class="bl" fill="#000">
<g transform="translate(2484.1,1390)">
<text transform="translate(15.65,-20) rotate(-90)">41</text><text transform="translate(32.95,-31.3) rotate(-90)">70</text><text transform="translate(50.25,-45.3) rotate(-90)">106</text><text transform="translate(67.55,-50.8) rotate(-90)">120</text><text transform="translate(84.85,-82.4) rotate(-90)">201</text><text transform="translate(102.15,-101.1) rotate(-90)">249</text>
</g>
<g transform="translate(2592.1,1390)">
<text transform="translate(15.65,-21.6) rotate(-90)">45</text><text transform="translate(32.95,-32.1) rotate(-90)">72</text><text transform="translate(50.25,-46.9) rotate(-90)">110</text><text transform="translate(67.55,-54.7) rotate(-90)">130</text><text transform="translate(84.85,-85.5) rotate(-90)">209</text><text transform="translate(102.15,-106.2) rotate(-90)">262</text>
</g>
<g transform="translate(2701.1,1390)">
<text transform="translate(15.65,-22.7) rotate(-90)">48</text><text transform="translate(32.95,-32.5) rotate(-90)">73</text><text transform="translate(50.25,-46.9) rotate(-90)">110</text><text transform="translate(67.55,-56.7) rotate(-90)">135</text><text transform="translate(84.85,-86.7) rotate(-90)">212</text><text transform="translate(102.15,-107.4) rotate(-90)">265</text>
</g>
<g transform="translate(2809.1,1390)">
<text transform="translate(15.65,-3) rotate(-90)">OOM</text><text transform="translate(32.95,-32.9) rotate(-90)">74</text><text transform="translate(50.25,-47.3) rotate(-90)">111</text><text transform="translate(67.55,-57) rotate(-90)">136</text><text transform="translate(84.85,-87.5) rotate(-90)">214</text><text transform="translate(102.15,-108.9) rotate(-90)">269</text>
</g>
<g transform="translate(2918.1,1390)">
<text transform="translate(15.65,-3) rotate(-90)">OOM</text><text transform="translate(32.95,-32.9) rotate(-90)">74</text><text transform="translate(50.25,-47.3) rotate(-90)">111</text><text transform="translate(67.55,-57.4) rotate(-90)">137</text><text transform="translate(84.85,-88.6) rotate(-90)">217</text><text transform="translate(102.15,-110.1) rotate(-90)">272</text>
</g>
<g transform="translate(3025.1,1390)">
<text transform="translate(15.65,-3) rotate(-90)">OOM</text><text transform="translate(32.95,-32.9) rotate(-90)">74</text><text transform="translate(50.25,-47.3) rotate(-90)">111</text><text transform="translate(67.55,-57.8) rotate(-90)">138</text><text transform="translate(84.85,-88.6) rotate(-90)">217</text><text transform="translate(102.15,-110.5) rotate(-90)">273</text>
</g>
</g>
<rect x="2471" y="1172" width="671" height="218" fill="none" stroke="#444" stroke-width="1.5"/>
<rect x="2522" y="1181" width="569" height="62" rx="4" fill="#fff" fill-opacity="0.85" stroke="#ccc"/>
<g stroke="#000" stroke-width="1.3">
<rect x="2529" y="1190" width="40" height="15" fill="#000"/><rect x="2529" y="1218" width="40" height="15" fill="#7F7F7F"/>
<rect x="2706" y="1190" width="40" height="15" fill="url(#hX)"/><rect x="2706" y="1218" width="40" height="15" fill="url(#hO)"/>
<rect x="2899" y="1190" width="40" height="15" fill="url(#hY)"/><rect x="2899" y="1218" width="40" height="15" fill="url(#hG)"/>
</g>
<g class="d" font-size="19" fill="#000">
<text x="2583" y="1204">Torch</text><text x="2583" y="1232">xformers</text>
<text x="2760" y="1204">FlashAttn2</text><text x="2760" y="1232">SageAttn1</text>
<text x="2954" y="1204">SageAttn2-8b</text><text x="2954" y="1232">SageAttn2-4b</text>
</g>

<!-- ============ TABLE ============ -->
<g class="s" fill="#000" font-size="24">
<text x="2440" y="1504" textLength="702" lengthAdjust="spacingAndGlyphs"><tspan font-style="italic">Table 8.</tspan> End-to-end generation latency using <tspan font-family="Liberation Mono,monospace">SageAttention2</tspan></text>
<text x="2440" y="1537" textLength="704" lengthAdjust="spacingAndGlyphs">(The latency of <tspan font-family="Liberation Mono,monospace">Llama3.1</tspan> is the time to first token generation</text>
<text x="2440" y="1570" textLength="363" lengthAdjust="spacingAndGlyphs">using different sequence lengths).</text>
</g>
<path d="M2447,1582H3159M2447,1859H3159" stroke="#000" stroke-width="2.5"/>
<path d="M2447,1657H3159" stroke="#000" stroke-width="1.5"/>
<path d="M2714,1590V1652M2816,1590V1652M2910,1590V1652M3035,1590V1652M2714,1665V1855M2816,1665V1855M2910,1665V1855M3035,1665V1855" stroke="#000" stroke-width="1.2"/>
<g class="s" fill="#000" font-size="24" text-anchor="middle">
<text x="2580" y="1627" font-weight="bold">Model</text>
<text x="2764" y="1627" font-weight="bold">GPU</text>
<text x="2863" y="1627" font-weight="bold" textLength="90" lengthAdjust="spacingAndGlyphs">Original</text>
<g font-family="Liberation Mono,monospace" font-size="22">
<text x="2973" y="1611" textLength="122" lengthAdjust="spacingAndGlyphs">SageAttn</text><text x="2973" y="1642">2-8b</text>
<text x="3097" y="1611" textLength="122" lengthAdjust="spacingAndGlyphs">SageAttn</text><text x="3097" y="1642">2-4b</text>
</g>
<text x="2580" y="1688" textLength="190" lengthAdjust="spacingAndGlyphs"><tspan font-family="Liberation Mono,monospace">CogvideoX</tspan> (2B)</text>
<text x="2580" y="1719" textLength="229" lengthAdjust="spacingAndGlyphs"><tspan font-family="Liberation Mono,monospace">CogvideoX</tspan> (1.5-5B)</text>
<text x="2580" y="1750" font-family="Liberation Mono,monospace" textLength="181" lengthAdjust="spacingAndGlyphs">HunyuanVideo</text>
<text x="2578" y="1781" font-family="Liberation Mono,monospace" textLength="74" lengthAdjust="spacingAndGlyphs">Mochi</text>
<text x="2580" y="1813" textLength="251" lengthAdjust="spacingAndGlyphs"><tspan font-family="Liberation Mono,monospace">Llama3.1</tspan> (48K token)</text>
<text x="2580" y="1844" textLength="264" lengthAdjust="spacingAndGlyphs"><tspan font-family="Liberation Mono,monospace">Llama3.1</tspan> (100K token)</text>
<text x="2764" y="1688" textLength="100" lengthAdjust="spacingAndGlyphs">RTX4090</text>
<text x="2764" y="1719" textLength="100" lengthAdjust="spacingAndGlyphs">RTX4090</text>
<text x="2764" y="1750">L20</text><text x="2764" y="1781">L20</text>
<text x="2764" y="1813" textLength="100" lengthAdjust="spacingAndGlyphs">RTX4090</text>
<text x="2764" y="1844">L20</text>
<text x="2863" y="1688">86 s</text><text x="2863" y="1719">1040 s</text><text x="2863" y="1750">2221 s</text><text x="2863" y="1781">2336 s</text><text x="2863" y="1813">9.2 s</text><text x="2863" y="1844">39.9 s</text>
<g font-weight="bold">
<text x="2973" y="1688">54 s</text><text x="2973" y="1719">577 s</text><text x="2973" y="1750">1486 s</text><text x="2973" y="1781">1316 s</text><text x="2973" y="1813">5.7 s</text><text x="2973" y="1844">25.4 s</text>
<text x="3097" y="1688">52 s</text><text x="3097" y="1719">555 s</text><text x="3097" y="1750">1435 s</text><text x="3097" y="1781">1190 s</text><text x="3097" y="1813">5.6 s</text><text x="3097" y="1844">23.2 s</text>
</g>
</g>
</svg>
</body></html>
